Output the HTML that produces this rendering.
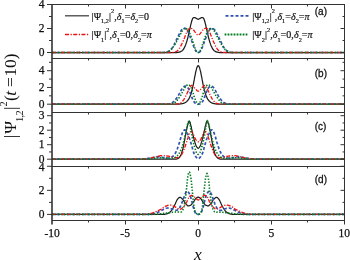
<!DOCTYPE html>
<html><head><meta charset="utf-8"><style>
html,body{margin:0;padding:0;background:#fff;}
svg{display:block;will-change:transform;}
.k{fill:none;stroke:#1e1e1e;stroke-width:1.25;}
.bl{fill:none;stroke:#3352b0;stroke-width:1.7;stroke-dasharray:3 2;}
.rd{fill:none;stroke:#f01010;stroke-width:1.3;stroke-dasharray:4 1.6 1.2 1.4;}
.gr{fill:none;stroke:#007a1e;stroke-width:1.6;stroke-dasharray:1.4 1.6;}
text{font-family:"Liberation Serif",serif;fill:#111;}
.tl{font-size:11.5px;stroke:#111;stroke-width:0.25px;}
.lgt{stroke:#111;stroke-width:0.2px;}
.pll{stroke:#111;stroke-width:0.28px;}
</style></head><body>
<svg width="350" height="260" viewBox="0 0 350 260">
<rect width="350" height="260" fill="#fff"/>
<defs><clipPath id="pc"><rect x="52.0" y="4.5" width="292.5" height="216"/></clipPath></defs>
<g clip-path="url(#pc)">
<path class="k" d="M52.0,52.5 L131.0,52.5 L131.3,52.5 L131.7,52.5 L132.1,52.5 L132.4,52.5 L132.8,52.5 L133.2,52.5 L133.5,52.5 L133.9,52.5 L134.3,52.5 L134.6,52.5 L135.0,52.5 L135.4,52.5 L135.7,52.5 L136.1,52.5 L136.5,52.5 L136.8,52.5 L137.2,52.5 L137.5,52.5 L137.9,52.5 L138.3,52.5 L138.6,52.5 L139.0,52.5 L139.4,52.5 L139.7,52.5 L140.1,52.5 L140.5,52.5 L140.8,52.5 L141.2,52.5 L141.6,52.5 L141.9,52.5 L142.3,52.5 L142.7,52.5 L143.0,52.5 L143.4,52.5 L143.8,52.5 L144.1,52.5 L144.5,52.5 L144.9,52.5 L145.2,52.5 L145.6,52.5 L146.0,52.5 L146.3,52.5 L146.7,52.5 L147.0,52.5 L147.4,52.5 L147.8,52.5 L148.1,52.5 L148.5,52.5 L148.9,52.5 L149.2,52.5 L149.6,52.5 L150.0,52.5 L150.3,52.5 L150.7,52.5 L151.1,52.5 L151.4,52.5 L151.8,52.5 L152.2,52.5 L152.5,52.5 L152.9,52.5 L153.3,52.5 L153.6,52.5 L154.0,52.5 L154.4,52.5 L154.7,52.5 L155.1,52.5 L155.5,52.5 L155.8,52.5 L156.2,52.5 L156.5,52.5 L156.9,52.5 L157.3,52.5 L157.6,52.5 L158.0,52.5 L158.4,52.5 L158.7,52.5 L159.1,52.5 L159.5,52.5 L159.8,52.5 L160.2,52.5 L160.6,52.5 L160.9,52.5 L161.3,52.5 L161.7,52.5 L162.0,52.5 L162.4,52.5 L162.8,52.5 L163.1,52.5 L163.5,52.5 L163.9,52.5 L164.2,52.5 L164.6,52.5 L165.0,52.5 L165.3,52.5 L165.7,52.5 L166.0,52.5 L166.4,52.5 L166.8,52.5 L167.1,52.5 L167.5,52.5 L167.9,52.5 L168.2,52.5 L168.6,52.5 L169.0,52.5 L169.3,52.5 L169.7,52.5 L170.1,52.5 L170.4,52.5 L170.8,52.5 L171.2,52.5 L171.5,52.5 L171.9,52.5 L172.3,52.5 L172.6,52.5 L173.0,52.5 L173.4,52.5 L173.7,52.5 L174.1,52.5 L174.5,52.5 L174.8,52.5 L175.2,52.5 L175.5,52.5 L175.9,52.5 L176.3,52.5 L176.6,52.5 L177.0,52.5 L177.4,52.4 L177.7,52.4 L178.1,52.3 L178.5,52.3 L178.8,52.2 L179.2,52.1 L179.6,52.1 L179.9,51.9 L180.3,51.8 L180.7,51.6 L181.0,51.4 L181.4,51.2 L181.8,51.0 L182.1,50.7 L182.5,50.4 L182.9,50.0 L183.2,49.5 L183.6,49.0 L184.0,48.5 L184.3,47.8 L184.7,47.1 L185.0,46.3 L185.4,45.4 L185.8,44.4 L186.1,43.4 L186.5,42.3 L186.9,41.1 L187.2,39.9 L187.6,38.5 L188.0,37.1 L188.3,35.7 L188.7,34.1 L189.1,32.5 L189.4,30.9 L189.8,29.2 L190.2,27.5 L190.5,25.8 L190.9,24.2 L191.3,22.8 L191.6,21.5 L192.0,20.3 L192.4,19.2 L192.7,18.4 L193.1,18.1 L193.5,17.8 L193.8,17.6 L194.2,17.5 L194.5,17.5 L194.9,17.5 L195.3,17.7 L195.6,17.9 L196.0,18.2 L196.4,18.4 L196.7,18.6 L197.1,18.8 L197.5,19.0 L197.8,19.2 L198.2,19.3 L198.6,19.2 L198.9,19.0 L199.3,18.8 L199.7,18.6 L200.0,18.4 L200.4,18.2 L200.8,17.9 L201.1,17.7 L201.5,17.5 L201.9,17.5 L202.2,17.5 L202.6,17.6 L202.9,17.8 L203.3,18.1 L203.7,18.4 L204.0,19.2 L204.4,20.3 L204.8,21.5 L205.1,22.8 L205.5,24.2 L205.9,25.8 L206.2,27.5 L206.6,29.2 L207.0,30.9 L207.3,32.5 L207.7,34.1 L208.1,35.7 L208.4,37.1 L208.8,38.5 L209.2,39.9 L209.5,41.1 L209.9,42.3 L210.3,43.4 L210.6,44.4 L211.0,45.4 L211.4,46.3 L211.7,47.1 L212.1,47.8 L212.4,48.5 L212.8,49.0 L213.2,49.5 L213.5,50.0 L213.9,50.4 L214.3,50.7 L214.6,51.0 L215.0,51.2 L215.4,51.4 L215.7,51.6 L216.1,51.8 L216.5,51.9 L216.8,52.1 L217.2,52.1 L217.6,52.2 L217.9,52.3 L218.3,52.3 L218.7,52.4 L219.0,52.4 L219.4,52.5 L219.8,52.5 L220.1,52.5 L220.5,52.5 L220.9,52.5 L221.2,52.5 L221.6,52.5 L221.9,52.5 L222.3,52.5 L222.7,52.5 L223.0,52.5 L223.4,52.5 L223.8,52.5 L224.1,52.5 L224.5,52.5 L224.9,52.5 L225.2,52.5 L225.6,52.5 L226.0,52.5 L226.3,52.5 L226.7,52.5 L227.1,52.5 L227.4,52.5 L227.8,52.5 L228.2,52.5 L228.5,52.5 L228.9,52.5 L229.3,52.5 L229.6,52.5 L230.0,52.5 L230.4,52.5 L230.7,52.5 L231.1,52.5 L231.4,52.5 L231.8,52.5 L232.2,52.5 L232.5,52.5 L232.9,52.5 L233.3,52.5 L233.6,52.5 L234.0,52.5 L234.4,52.5 L234.7,52.5 L235.1,52.5 L235.5,52.5 L235.8,52.5 L236.2,52.5 L236.6,52.5 L236.9,52.5 L237.3,52.5 L237.7,52.5 L238.0,52.5 L238.4,52.5 L238.8,52.5 L239.1,52.5 L239.5,52.5 L239.9,52.5 L240.2,52.5 L240.6,52.5 L240.9,52.5 L241.3,52.5 L241.7,52.5 L242.0,52.5 L242.4,52.5 L242.8,52.5 L243.1,52.5 L243.5,52.5 L243.9,52.5 L244.2,52.5 L244.6,52.5 L245.0,52.5 L245.3,52.5 L245.7,52.5 L246.1,52.5 L246.4,52.5 L246.8,52.5 L247.2,52.5 L247.5,52.5 L247.9,52.5 L248.3,52.5 L248.6,52.5 L249.0,52.5 L249.4,52.5 L249.7,52.5 L250.1,52.5 L250.4,52.5 L250.8,52.5 L251.2,52.5 L251.5,52.5 L251.9,52.5 L252.3,52.5 L252.6,52.5 L253.0,52.5 L253.4,52.5 L253.7,52.5 L254.1,52.5 L254.5,52.5 L254.8,52.5 L255.2,52.5 L255.6,52.5 L255.9,52.5 L256.3,52.5 L256.7,52.5 L257.0,52.5 L257.4,52.5 L257.8,52.5 L258.1,52.5 L258.5,52.5 L258.9,52.5 L259.2,52.5 L259.6,52.5 L259.9,52.5 L260.3,52.5 L260.7,52.5 L261.0,52.5 L261.4,52.5 L261.8,52.5 L262.1,52.5 L262.5,52.5 L262.9,52.5 L263.2,52.5 L263.6,52.5 L264.0,52.5 L264.3,52.5 L264.7,52.5 L265.1,52.5 L265.4,52.5 L344.4,52.5"/>
<path class="bl" d="M52.0,52.5 L131.0,52.5 L131.3,52.5 L131.7,52.5 L132.1,52.5 L132.4,52.5 L132.8,52.5 L133.2,52.5 L133.5,52.5 L133.9,52.5 L134.3,52.5 L134.6,52.5 L135.0,52.5 L135.4,52.5 L135.7,52.5 L136.1,52.5 L136.5,52.5 L136.8,52.5 L137.2,52.5 L137.5,52.5 L137.9,52.5 L138.3,52.5 L138.6,52.5 L139.0,52.5 L139.4,52.5 L139.7,52.5 L140.1,52.5 L140.5,52.5 L140.8,52.5 L141.2,52.5 L141.6,52.5 L141.9,52.5 L142.3,52.5 L142.7,52.5 L143.0,52.5 L143.4,52.5 L143.8,52.5 L144.1,52.5 L144.5,52.5 L144.9,52.5 L145.2,52.5 L145.6,52.5 L146.0,52.5 L146.3,52.5 L146.7,52.5 L147.0,52.5 L147.4,52.5 L147.8,52.5 L148.1,52.5 L148.5,52.5 L148.9,52.5 L149.2,52.5 L149.6,52.5 L150.0,52.5 L150.3,52.5 L150.7,52.5 L151.1,52.5 L151.4,52.5 L151.8,52.5 L152.2,52.5 L152.5,52.5 L152.9,52.5 L153.3,52.5 L153.6,52.5 L154.0,52.5 L154.4,52.5 L154.7,52.5 L155.1,52.5 L155.5,52.5 L155.8,52.5 L156.2,52.5 L156.5,52.5 L156.9,52.5 L157.3,52.5 L157.6,52.5 L158.0,52.5 L158.4,52.5 L158.7,52.5 L159.1,52.5 L159.5,52.5 L159.8,52.5 L160.2,52.5 L160.6,52.5 L160.9,52.5 L161.3,52.5 L161.7,52.5 L162.0,52.5 L162.4,52.5 L162.8,52.5 L163.1,52.5 L163.5,52.5 L163.9,52.5 L164.2,52.4 L164.6,52.4 L165.0,52.4 L165.3,52.4 L165.7,52.3 L166.0,52.3 L166.4,52.2 L166.8,52.1 L167.1,52.0 L167.5,51.8 L167.9,51.7 L168.2,51.5 L168.6,51.3 L169.0,51.1 L169.3,50.9 L169.7,50.7 L170.1,50.4 L170.4,50.0 L170.8,49.6 L171.2,49.2 L171.5,48.8 L171.9,48.3 L172.3,47.8 L172.6,47.3 L173.0,46.8 L173.4,46.2 L173.7,45.5 L174.1,44.8 L174.5,44.0 L174.8,43.2 L175.2,42.4 L175.5,41.6 L175.9,40.9 L176.3,40.2 L176.6,39.4 L177.0,38.6 L177.4,37.9 L177.7,37.1 L178.1,36.4 L178.5,35.6 L178.8,34.9 L179.2,34.3 L179.6,33.6 L179.9,32.9 L180.3,32.2 L180.7,31.5 L181.0,30.9 L181.4,30.3 L181.8,29.8 L182.1,29.5 L182.5,29.2 L182.9,28.9 L183.2,28.6 L183.6,28.4 L184.0,28.3 L184.3,28.2 L184.7,28.1 L185.0,28.2 L185.4,28.4 L185.8,28.7 L186.1,29.1 L186.5,29.5 L186.9,29.9 L187.2,30.4 L187.6,31.0 L188.0,31.7 L188.3,32.5 L188.7,33.3 L189.1,34.2 L189.4,35.1 L189.8,36.0 L190.2,36.9 L190.5,37.8 L190.9,38.8 L191.3,39.8 L191.6,40.8 L192.0,41.7 L192.4,42.7 L192.7,43.8 L193.1,44.8 L193.5,45.9 L193.8,46.8 L194.2,47.7 L194.5,48.5 L194.9,49.3 L195.3,50.0 L195.6,50.7 L196.0,51.3 L196.4,51.7 L196.7,52.0 L197.1,52.2 L197.5,52.4 L197.8,52.5 L198.2,52.5 L198.6,52.5 L198.9,52.4 L199.3,52.2 L199.7,52.0 L200.0,51.7 L200.4,51.3 L200.8,50.7 L201.1,50.0 L201.5,49.3 L201.9,48.5 L202.2,47.7 L202.6,46.8 L202.9,45.9 L203.3,44.8 L203.7,43.8 L204.0,42.7 L204.4,41.7 L204.8,40.8 L205.1,39.8 L205.5,38.8 L205.9,37.8 L206.2,36.9 L206.6,36.0 L207.0,35.1 L207.3,34.2 L207.7,33.3 L208.1,32.5 L208.4,31.7 L208.8,31.0 L209.2,30.4 L209.5,29.9 L209.9,29.5 L210.3,29.1 L210.6,28.7 L211.0,28.4 L211.4,28.2 L211.7,28.1 L212.1,28.2 L212.4,28.3 L212.8,28.4 L213.2,28.6 L213.5,28.9 L213.9,29.2 L214.3,29.5 L214.6,29.8 L215.0,30.3 L215.4,30.9 L215.7,31.5 L216.1,32.2 L216.5,32.9 L216.8,33.6 L217.2,34.3 L217.6,34.9 L217.9,35.6 L218.3,36.4 L218.7,37.1 L219.0,37.9 L219.4,38.6 L219.8,39.4 L220.1,40.2 L220.5,40.9 L220.9,41.6 L221.2,42.4 L221.6,43.2 L221.9,44.0 L222.3,44.8 L222.7,45.5 L223.0,46.2 L223.4,46.8 L223.8,47.3 L224.1,47.8 L224.5,48.3 L224.9,48.8 L225.2,49.2 L225.6,49.6 L226.0,50.0 L226.3,50.4 L226.7,50.7 L227.1,50.9 L227.4,51.1 L227.8,51.3 L228.2,51.5 L228.5,51.7 L228.9,51.8 L229.3,52.0 L229.6,52.1 L230.0,52.2 L230.4,52.3 L230.7,52.3 L231.1,52.4 L231.4,52.4 L231.8,52.4 L232.2,52.4 L232.5,52.5 L232.9,52.5 L233.3,52.5 L233.6,52.5 L234.0,52.5 L234.4,52.5 L234.7,52.5 L235.1,52.5 L235.5,52.5 L235.8,52.5 L236.2,52.5 L236.6,52.5 L236.9,52.5 L237.3,52.5 L237.7,52.5 L238.0,52.5 L238.4,52.5 L238.8,52.5 L239.1,52.5 L239.5,52.5 L239.9,52.5 L240.2,52.5 L240.6,52.5 L240.9,52.5 L241.3,52.5 L241.7,52.5 L242.0,52.5 L242.4,52.5 L242.8,52.5 L243.1,52.5 L243.5,52.5 L243.9,52.5 L244.2,52.5 L244.6,52.5 L245.0,52.5 L245.3,52.5 L245.7,52.5 L246.1,52.5 L246.4,52.5 L246.8,52.5 L247.2,52.5 L247.5,52.5 L247.9,52.5 L248.3,52.5 L248.6,52.5 L249.0,52.5 L249.4,52.5 L249.7,52.5 L250.1,52.5 L250.4,52.5 L250.8,52.5 L251.2,52.5 L251.5,52.5 L251.9,52.5 L252.3,52.5 L252.6,52.5 L253.0,52.5 L253.4,52.5 L253.7,52.5 L254.1,52.5 L254.5,52.5 L254.8,52.5 L255.2,52.5 L255.6,52.5 L255.9,52.5 L256.3,52.5 L256.7,52.5 L257.0,52.5 L257.4,52.5 L257.8,52.5 L258.1,52.5 L258.5,52.5 L258.9,52.5 L259.2,52.5 L259.6,52.5 L259.9,52.5 L260.3,52.5 L260.7,52.5 L261.0,52.5 L261.4,52.5 L261.8,52.5 L262.1,52.5 L262.5,52.5 L262.9,52.5 L263.2,52.5 L263.6,52.5 L264.0,52.5 L264.3,52.5 L264.7,52.5 L265.1,52.5 L265.4,52.5 L344.4,52.5"/>
<path class="rd" d="M52.0,52.5 L131.0,52.5 L131.3,52.5 L131.7,52.5 L132.1,52.5 L132.4,52.5 L132.8,52.5 L133.2,52.5 L133.5,52.5 L133.9,52.5 L134.3,52.5 L134.6,52.5 L135.0,52.5 L135.4,52.5 L135.7,52.5 L136.1,52.5 L136.5,52.5 L136.8,52.5 L137.2,52.5 L137.5,52.5 L137.9,52.5 L138.3,52.5 L138.6,52.5 L139.0,52.5 L139.4,52.5 L139.7,52.5 L140.1,52.5 L140.5,52.5 L140.8,52.5 L141.2,52.5 L141.6,52.5 L141.9,52.5 L142.3,52.5 L142.7,52.5 L143.0,52.5 L143.4,52.5 L143.8,52.5 L144.1,52.5 L144.5,52.5 L144.9,52.5 L145.2,52.5 L145.6,52.5 L146.0,52.5 L146.3,52.5 L146.7,52.5 L147.0,52.5 L147.4,52.5 L147.8,52.5 L148.1,52.5 L148.5,52.5 L148.9,52.5 L149.2,52.5 L149.6,52.5 L150.0,52.5 L150.3,52.5 L150.7,52.5 L151.1,52.5 L151.4,52.5 L151.8,52.5 L152.2,52.5 L152.5,52.5 L152.9,52.5 L153.3,52.5 L153.6,52.5 L154.0,52.5 L154.4,52.5 L154.7,52.5 L155.1,52.5 L155.5,52.5 L155.8,52.5 L156.2,52.5 L156.5,52.5 L156.9,52.5 L157.3,52.5 L157.6,52.5 L158.0,52.5 L158.4,52.5 L158.7,52.5 L159.1,52.5 L159.5,52.5 L159.8,52.5 L160.2,52.5 L160.6,52.5 L160.9,52.5 L161.3,52.5 L161.7,52.5 L162.0,52.5 L162.4,52.5 L162.8,52.5 L163.1,52.5 L163.5,52.5 L163.9,52.5 L164.2,52.5 L164.6,52.5 L165.0,52.5 L165.3,52.5 L165.7,52.5 L166.0,52.5 L166.4,52.5 L166.8,52.5 L167.1,52.5 L167.5,52.5 L167.9,52.5 L168.2,52.5 L168.6,52.5 L169.0,52.5 L169.3,52.5 L169.7,52.5 L170.1,52.5 L170.4,52.5 L170.8,52.5 L171.2,52.5 L171.5,52.4 L171.9,52.4 L172.3,52.4 L172.6,52.4 L173.0,52.3 L173.4,52.3 L173.7,52.2 L174.1,52.2 L174.5,52.1 L174.8,52.0 L175.2,51.9 L175.5,51.8 L175.9,51.7 L176.3,51.5 L176.6,51.3 L177.0,51.1 L177.4,50.8 L177.7,50.5 L178.1,50.2 L178.5,49.8 L178.8,49.3 L179.2,48.8 L179.6,48.2 L179.9,47.6 L180.3,47.0 L180.7,46.3 L181.0,45.6 L181.4,44.8 L181.8,44.0 L182.1,43.3 L182.5,42.5 L182.9,41.7 L183.2,40.9 L183.6,40.1 L184.0,39.2 L184.3,38.3 L184.7,37.4 L185.0,36.4 L185.4,35.4 L185.8,34.5 L186.1,33.6 L186.5,32.7 L186.9,31.8 L187.2,31.0 L187.6,30.4 L188.0,29.9 L188.3,29.4 L188.7,29.0 L189.1,28.7 L189.4,28.5 L189.8,28.4 L190.2,28.3 L190.5,28.3 L190.9,28.3 L191.3,28.3 L191.6,28.5 L192.0,28.7 L192.4,28.9 L192.7,29.3 L193.1,29.6 L193.5,30.0 L193.8,30.3 L194.2,30.7 L194.5,31.2 L194.9,31.8 L195.3,32.3 L195.6,32.9 L196.0,33.4 L196.4,33.8 L196.7,34.2 L197.1,34.5 L197.5,34.8 L197.8,35.0 L198.2,35.1 L198.6,35.0 L198.9,34.8 L199.3,34.5 L199.7,34.2 L200.0,33.8 L200.4,33.4 L200.8,32.9 L201.1,32.3 L201.5,31.8 L201.9,31.2 L202.2,30.7 L202.6,30.3 L202.9,30.0 L203.3,29.6 L203.7,29.3 L204.0,28.9 L204.4,28.7 L204.8,28.5 L205.1,28.3 L205.5,28.3 L205.9,28.3 L206.2,28.3 L206.6,28.4 L207.0,28.5 L207.3,28.7 L207.7,29.0 L208.1,29.4 L208.4,29.9 L208.8,30.4 L209.2,31.0 L209.5,31.8 L209.9,32.7 L210.3,33.6 L210.6,34.5 L211.0,35.4 L211.4,36.4 L211.7,37.4 L212.1,38.3 L212.4,39.2 L212.8,40.1 L213.2,40.9 L213.5,41.7 L213.9,42.5 L214.3,43.3 L214.6,44.0 L215.0,44.8 L215.4,45.6 L215.7,46.3 L216.1,47.0 L216.5,47.6 L216.8,48.2 L217.2,48.8 L217.6,49.3 L217.9,49.8 L218.3,50.2 L218.7,50.5 L219.0,50.8 L219.4,51.1 L219.8,51.3 L220.1,51.5 L220.5,51.7 L220.9,51.8 L221.2,51.9 L221.6,52.0 L221.9,52.1 L222.3,52.2 L222.7,52.2 L223.0,52.3 L223.4,52.3 L223.8,52.4 L224.1,52.4 L224.5,52.4 L224.9,52.4 L225.2,52.5 L225.6,52.5 L226.0,52.5 L226.3,52.5 L226.7,52.5 L227.1,52.5 L227.4,52.5 L227.8,52.5 L228.2,52.5 L228.5,52.5 L228.9,52.5 L229.3,52.5 L229.6,52.5 L230.0,52.5 L230.4,52.5 L230.7,52.5 L231.1,52.5 L231.4,52.5 L231.8,52.5 L232.2,52.5 L232.5,52.5 L232.9,52.5 L233.3,52.5 L233.6,52.5 L234.0,52.5 L234.4,52.5 L234.7,52.5 L235.1,52.5 L235.5,52.5 L235.8,52.5 L236.2,52.5 L236.6,52.5 L236.9,52.5 L237.3,52.5 L237.7,52.5 L238.0,52.5 L238.4,52.5 L238.8,52.5 L239.1,52.5 L239.5,52.5 L239.9,52.5 L240.2,52.5 L240.6,52.5 L240.9,52.5 L241.3,52.5 L241.7,52.5 L242.0,52.5 L242.4,52.5 L242.8,52.5 L243.1,52.5 L243.5,52.5 L243.9,52.5 L244.2,52.5 L244.6,52.5 L245.0,52.5 L245.3,52.5 L245.7,52.5 L246.1,52.5 L246.4,52.5 L246.8,52.5 L247.2,52.5 L247.5,52.5 L247.9,52.5 L248.3,52.5 L248.6,52.5 L249.0,52.5 L249.4,52.5 L249.7,52.5 L250.1,52.5 L250.4,52.5 L250.8,52.5 L251.2,52.5 L251.5,52.5 L251.9,52.5 L252.3,52.5 L252.6,52.5 L253.0,52.5 L253.4,52.5 L253.7,52.5 L254.1,52.5 L254.5,52.5 L254.8,52.5 L255.2,52.5 L255.6,52.5 L255.9,52.5 L256.3,52.5 L256.7,52.5 L257.0,52.5 L257.4,52.5 L257.8,52.5 L258.1,52.5 L258.5,52.5 L258.9,52.5 L259.2,52.5 L259.6,52.5 L259.9,52.5 L260.3,52.5 L260.7,52.5 L261.0,52.5 L261.4,52.5 L261.8,52.5 L262.1,52.5 L262.5,52.5 L262.9,52.5 L263.2,52.5 L263.6,52.5 L264.0,52.5 L264.3,52.5 L264.7,52.5 L265.1,52.5 L265.4,52.5 L344.4,52.5"/>
<path class="gr" d="M52.0,52.5 L131.0,52.5 L131.3,52.5 L131.7,52.5 L132.1,52.5 L132.4,52.5 L132.8,52.5 L133.2,52.5 L133.5,52.5 L133.9,52.5 L134.3,52.5 L134.6,52.5 L135.0,52.5 L135.4,52.5 L135.7,52.5 L136.1,52.5 L136.5,52.5 L136.8,52.5 L137.2,52.5 L137.5,52.5 L137.9,52.5 L138.3,52.5 L138.6,52.5 L139.0,52.5 L139.4,52.5 L139.7,52.5 L140.1,52.5 L140.5,52.5 L140.8,52.5 L141.2,52.5 L141.6,52.5 L141.9,52.5 L142.3,52.5 L142.7,52.5 L143.0,52.5 L143.4,52.5 L143.8,52.5 L144.1,52.5 L144.5,52.5 L144.9,52.5 L145.2,52.5 L145.6,52.5 L146.0,52.5 L146.3,52.5 L146.7,52.5 L147.0,52.5 L147.4,52.5 L147.8,52.5 L148.1,52.5 L148.5,52.5 L148.9,52.5 L149.2,52.5 L149.6,52.5 L150.0,52.5 L150.3,52.5 L150.7,52.5 L151.1,52.5 L151.4,52.5 L151.8,52.5 L152.2,52.5 L152.5,52.5 L152.9,52.5 L153.3,52.5 L153.6,52.5 L154.0,52.5 L154.4,52.5 L154.7,52.5 L155.1,52.5 L155.5,52.5 L155.8,52.5 L156.2,52.5 L156.5,52.5 L156.9,52.5 L157.3,52.5 L157.6,52.5 L158.0,52.5 L158.4,52.5 L158.7,52.5 L159.1,52.5 L159.5,52.5 L159.8,52.5 L160.2,52.5 L160.6,52.5 L160.9,52.5 L161.3,52.5 L161.7,52.5 L162.0,52.5 L162.4,52.5 L162.8,52.5 L163.1,52.5 L163.5,52.5 L163.9,52.5 L164.2,52.5 L164.6,52.4 L165.0,52.4 L165.3,52.4 L165.7,52.4 L166.0,52.4 L166.4,52.3 L166.8,52.3 L167.1,52.2 L167.5,52.1 L167.9,51.9 L168.2,51.7 L168.6,51.6 L169.0,51.4 L169.3,51.2 L169.7,50.9 L170.1,50.7 L170.4,50.4 L170.8,50.0 L171.2,49.6 L171.5,49.2 L171.9,48.7 L172.3,48.2 L172.6,47.7 L173.0,47.2 L173.4,46.7 L173.7,46.2 L174.1,45.7 L174.5,45.2 L174.8,44.6 L175.2,44.0 L175.5,43.4 L175.9,42.8 L176.3,42.2 L176.6,41.6 L177.0,40.9 L177.4,40.2 L177.7,39.5 L178.1,38.7 L178.5,38.0 L178.8,37.3 L179.2,36.5 L179.6,35.8 L179.9,35.1 L180.3,34.4 L180.7,33.7 L181.0,32.9 L181.4,32.2 L181.8,31.5 L182.1,30.9 L182.5,30.4 L182.9,29.9 L183.2,29.6 L183.6,29.2 L184.0,28.9 L184.3,28.6 L184.7,28.3 L185.0,28.2 L185.4,28.1 L185.8,28.2 L186.1,28.4 L186.5,28.7 L186.9,29.1 L187.2,29.5 L187.6,29.9 L188.0,30.3 L188.3,30.8 L188.7,31.5 L189.1,32.2 L189.4,32.9 L189.8,33.7 L190.2,34.5 L190.5,35.3 L190.9,36.2 L191.3,37.2 L191.6,38.2 L192.0,39.2 L192.4,40.3 L192.7,41.3 L193.1,42.4 L193.5,43.5 L193.8,44.6 L194.2,45.8 L194.5,46.8 L194.9,47.8 L195.3,48.7 L195.6,49.6 L196.0,50.4 L196.4,51.2 L196.7,51.7 L197.1,52.1 L197.5,52.3 L197.8,52.4 L198.2,52.5 L198.6,52.4 L198.9,52.3 L199.3,52.1 L199.7,51.7 L200.0,51.2 L200.4,50.4 L200.8,49.6 L201.1,48.7 L201.5,47.8 L201.9,46.8 L202.2,45.8 L202.6,44.6 L202.9,43.5 L203.3,42.4 L203.7,41.3 L204.0,40.3 L204.4,39.2 L204.8,38.2 L205.1,37.2 L205.5,36.2 L205.9,35.3 L206.2,34.5 L206.6,33.7 L207.0,32.9 L207.3,32.2 L207.7,31.5 L208.1,30.8 L208.4,30.3 L208.8,29.9 L209.2,29.5 L209.5,29.1 L209.9,28.7 L210.3,28.4 L210.6,28.2 L211.0,28.1 L211.4,28.2 L211.7,28.3 L212.1,28.6 L212.4,28.9 L212.8,29.2 L213.2,29.6 L213.5,29.9 L213.9,30.4 L214.3,30.9 L214.6,31.5 L215.0,32.2 L215.4,32.9 L215.7,33.7 L216.1,34.4 L216.5,35.1 L216.8,35.8 L217.2,36.5 L217.6,37.3 L217.9,38.0 L218.3,38.7 L218.7,39.5 L219.0,40.2 L219.4,40.9 L219.8,41.6 L220.1,42.2 L220.5,42.8 L220.9,43.4 L221.2,44.0 L221.6,44.6 L221.9,45.2 L222.3,45.7 L222.7,46.2 L223.0,46.7 L223.4,47.2 L223.8,47.7 L224.1,48.2 L224.5,48.7 L224.9,49.2 L225.2,49.6 L225.6,50.0 L226.0,50.4 L226.3,50.7 L226.7,50.9 L227.1,51.2 L227.4,51.4 L227.8,51.6 L228.2,51.7 L228.5,51.9 L228.9,52.1 L229.3,52.2 L229.6,52.3 L230.0,52.3 L230.4,52.4 L230.7,52.4 L231.1,52.4 L231.4,52.4 L231.8,52.4 L232.2,52.5 L232.5,52.5 L232.9,52.5 L233.3,52.5 L233.6,52.5 L234.0,52.5 L234.4,52.5 L234.7,52.5 L235.1,52.5 L235.5,52.5 L235.8,52.5 L236.2,52.5 L236.6,52.5 L236.9,52.5 L237.3,52.5 L237.7,52.5 L238.0,52.5 L238.4,52.5 L238.8,52.5 L239.1,52.5 L239.5,52.5 L239.9,52.5 L240.2,52.5 L240.6,52.5 L240.9,52.5 L241.3,52.5 L241.7,52.5 L242.0,52.5 L242.4,52.5 L242.8,52.5 L243.1,52.5 L243.5,52.5 L243.9,52.5 L244.2,52.5 L244.6,52.5 L245.0,52.5 L245.3,52.5 L245.7,52.5 L246.1,52.5 L246.4,52.5 L246.8,52.5 L247.2,52.5 L247.5,52.5 L247.9,52.5 L248.3,52.5 L248.6,52.5 L249.0,52.5 L249.4,52.5 L249.7,52.5 L250.1,52.5 L250.4,52.5 L250.8,52.5 L251.2,52.5 L251.5,52.5 L251.9,52.5 L252.3,52.5 L252.6,52.5 L253.0,52.5 L253.4,52.5 L253.7,52.5 L254.1,52.5 L254.5,52.5 L254.8,52.5 L255.2,52.5 L255.6,52.5 L255.9,52.5 L256.3,52.5 L256.7,52.5 L257.0,52.5 L257.4,52.5 L257.8,52.5 L258.1,52.5 L258.5,52.5 L258.9,52.5 L259.2,52.5 L259.6,52.5 L259.9,52.5 L260.3,52.5 L260.7,52.5 L261.0,52.5 L261.4,52.5 L261.8,52.5 L262.1,52.5 L262.5,52.5 L262.9,52.5 L263.2,52.5 L263.6,52.5 L264.0,52.5 L264.3,52.5 L264.7,52.5 L265.1,52.5 L265.4,52.5 L344.4,52.5"/>
<path class="k" d="M52.0,104.2 L131.0,104.2 L131.3,104.2 L131.7,104.2 L132.1,104.2 L132.4,104.2 L132.8,104.2 L133.2,104.2 L133.5,104.2 L133.9,104.2 L134.3,104.2 L134.6,104.2 L135.0,104.2 L135.4,104.2 L135.7,104.2 L136.1,104.2 L136.5,104.2 L136.8,104.2 L137.2,104.2 L137.5,104.2 L137.9,104.2 L138.3,104.2 L138.6,104.2 L139.0,104.2 L139.4,104.2 L139.7,104.2 L140.1,104.2 L140.5,104.2 L140.8,104.2 L141.2,104.2 L141.6,104.2 L141.9,104.2 L142.3,104.2 L142.7,104.2 L143.0,104.2 L143.4,104.2 L143.8,104.2 L144.1,104.2 L144.5,104.2 L144.9,104.2 L145.2,104.2 L145.6,104.2 L146.0,104.2 L146.3,104.2 L146.7,104.2 L147.0,104.2 L147.4,104.2 L147.8,104.2 L148.1,104.2 L148.5,104.2 L148.9,104.2 L149.2,104.2 L149.6,104.2 L150.0,104.2 L150.3,104.2 L150.7,104.2 L151.1,104.2 L151.4,104.2 L151.8,104.2 L152.2,104.2 L152.5,104.2 L152.9,104.2 L153.3,104.2 L153.6,104.2 L154.0,104.2 L154.4,104.2 L154.7,104.2 L155.1,104.2 L155.5,104.2 L155.8,104.2 L156.2,104.2 L156.5,104.2 L156.9,104.2 L157.3,104.2 L157.6,104.2 L158.0,104.2 L158.4,104.2 L158.7,104.2 L159.1,104.2 L159.5,104.2 L159.8,104.2 L160.2,104.2 L160.6,104.2 L160.9,104.2 L161.3,104.2 L161.7,104.2 L162.0,104.2 L162.4,104.2 L162.8,104.2 L163.1,104.2 L163.5,104.2 L163.9,104.2 L164.2,104.2 L164.6,104.2 L165.0,104.2 L165.3,104.2 L165.7,104.2 L166.0,104.2 L166.4,104.2 L166.8,104.2 L167.1,104.2 L167.5,104.2 L167.9,104.2 L168.2,104.2 L168.6,104.2 L169.0,104.2 L169.3,104.2 L169.7,104.2 L170.1,104.2 L170.4,104.2 L170.8,104.2 L171.2,104.2 L171.5,104.2 L171.9,104.2 L172.3,104.2 L172.6,104.2 L173.0,104.2 L173.4,104.2 L173.7,104.2 L174.1,104.2 L174.5,104.2 L174.8,104.2 L175.2,104.2 L175.5,104.1 L175.9,104.1 L176.3,104.1 L176.6,104.1 L177.0,104.1 L177.4,104.1 L177.7,104.1 L178.1,104.1 L178.5,104.0 L178.8,104.0 L179.2,104.0 L179.6,104.0 L179.9,103.9 L180.3,103.9 L180.7,103.9 L181.0,103.8 L181.4,103.8 L181.8,103.7 L182.1,103.7 L182.5,103.6 L182.9,103.5 L183.2,103.4 L183.6,103.3 L184.0,103.2 L184.3,103.0 L184.7,102.9 L185.0,102.7 L185.4,102.5 L185.8,102.3 L186.1,102.0 L186.5,101.7 L186.9,101.4 L187.2,101.0 L187.6,100.6 L188.0,100.2 L188.3,99.7 L188.7,99.1 L189.1,98.4 L189.4,97.7 L189.8,96.9 L190.2,96.0 L190.5,95.0 L190.9,94.0 L191.3,92.8 L191.6,91.5 L192.0,90.1 L192.4,88.6 L192.7,87.1 L193.1,85.4 L193.5,83.6 L193.8,81.8 L194.2,79.9 L194.5,78.0 L194.9,76.1 L195.3,74.3 L195.6,72.5 L196.0,70.9 L196.4,69.4 L196.7,68.1 L197.1,67.1 L197.5,66.3 L197.8,65.8 L198.2,65.7 L198.6,65.8 L198.9,66.3 L199.3,67.1 L199.7,68.1 L200.0,69.4 L200.4,70.9 L200.8,72.5 L201.1,74.3 L201.5,76.1 L201.9,78.0 L202.2,79.9 L202.6,81.8 L202.9,83.6 L203.3,85.4 L203.7,87.1 L204.0,88.6 L204.4,90.1 L204.8,91.5 L205.1,92.8 L205.5,94.0 L205.9,95.0 L206.2,96.0 L206.6,96.9 L207.0,97.7 L207.3,98.4 L207.7,99.1 L208.1,99.7 L208.4,100.2 L208.8,100.6 L209.2,101.0 L209.5,101.4 L209.9,101.7 L210.3,102.0 L210.6,102.3 L211.0,102.5 L211.4,102.7 L211.7,102.9 L212.1,103.0 L212.4,103.2 L212.8,103.3 L213.2,103.4 L213.5,103.5 L213.9,103.6 L214.3,103.7 L214.6,103.7 L215.0,103.8 L215.4,103.8 L215.7,103.9 L216.1,103.9 L216.5,103.9 L216.8,104.0 L217.2,104.0 L217.6,104.0 L217.9,104.0 L218.3,104.1 L218.7,104.1 L219.0,104.1 L219.4,104.1 L219.8,104.1 L220.1,104.1 L220.5,104.1 L220.9,104.1 L221.2,104.2 L221.6,104.2 L221.9,104.2 L222.3,104.2 L222.7,104.2 L223.0,104.2 L223.4,104.2 L223.8,104.2 L224.1,104.2 L224.5,104.2 L224.9,104.2 L225.2,104.2 L225.6,104.2 L226.0,104.2 L226.3,104.2 L226.7,104.2 L227.1,104.2 L227.4,104.2 L227.8,104.2 L228.2,104.2 L228.5,104.2 L228.9,104.2 L229.3,104.2 L229.6,104.2 L230.0,104.2 L230.4,104.2 L230.7,104.2 L231.1,104.2 L231.4,104.2 L231.8,104.2 L232.2,104.2 L232.5,104.2 L232.9,104.2 L233.3,104.2 L233.6,104.2 L234.0,104.2 L234.4,104.2 L234.7,104.2 L235.1,104.2 L235.5,104.2 L235.8,104.2 L236.2,104.2 L236.6,104.2 L236.9,104.2 L237.3,104.2 L237.7,104.2 L238.0,104.2 L238.4,104.2 L238.8,104.2 L239.1,104.2 L239.5,104.2 L239.9,104.2 L240.2,104.2 L240.6,104.2 L240.9,104.2 L241.3,104.2 L241.7,104.2 L242.0,104.2 L242.4,104.2 L242.8,104.2 L243.1,104.2 L243.5,104.2 L243.9,104.2 L244.2,104.2 L244.6,104.2 L245.0,104.2 L245.3,104.2 L245.7,104.2 L246.1,104.2 L246.4,104.2 L246.8,104.2 L247.2,104.2 L247.5,104.2 L247.9,104.2 L248.3,104.2 L248.6,104.2 L249.0,104.2 L249.4,104.2 L249.7,104.2 L250.1,104.2 L250.4,104.2 L250.8,104.2 L251.2,104.2 L251.5,104.2 L251.9,104.2 L252.3,104.2 L252.6,104.2 L253.0,104.2 L253.4,104.2 L253.7,104.2 L254.1,104.2 L254.5,104.2 L254.8,104.2 L255.2,104.2 L255.6,104.2 L255.9,104.2 L256.3,104.2 L256.7,104.2 L257.0,104.2 L257.4,104.2 L257.8,104.2 L258.1,104.2 L258.5,104.2 L258.9,104.2 L259.2,104.2 L259.6,104.2 L259.9,104.2 L260.3,104.2 L260.7,104.2 L261.0,104.2 L261.4,104.2 L261.8,104.2 L262.1,104.2 L262.5,104.2 L262.9,104.2 L263.2,104.2 L263.6,104.2 L264.0,104.2 L264.3,104.2 L264.7,104.2 L265.1,104.2 L265.4,104.2 L344.4,104.2"/>
<path class="bl" d="M52.0,104.2 L131.0,104.2 L131.3,104.2 L131.7,104.2 L132.1,104.2 L132.4,104.2 L132.8,104.2 L133.2,104.2 L133.5,104.2 L133.9,104.2 L134.3,104.2 L134.6,104.2 L135.0,104.2 L135.4,104.2 L135.7,104.2 L136.1,104.2 L136.5,104.2 L136.8,104.2 L137.2,104.2 L137.5,104.2 L137.9,104.2 L138.3,104.2 L138.6,104.2 L139.0,104.2 L139.4,104.2 L139.7,104.2 L140.1,104.2 L140.5,104.2 L140.8,104.2 L141.2,104.2 L141.6,104.2 L141.9,104.2 L142.3,104.2 L142.7,104.2 L143.0,104.2 L143.4,104.2 L143.8,104.2 L144.1,104.2 L144.5,104.2 L144.9,104.2 L145.2,104.2 L145.6,104.2 L146.0,104.2 L146.3,104.2 L146.7,104.2 L147.0,104.2 L147.4,104.2 L147.8,104.2 L148.1,104.2 L148.5,104.2 L148.9,104.2 L149.2,104.2 L149.6,104.2 L150.0,104.2 L150.3,104.2 L150.7,104.2 L151.1,104.2 L151.4,104.2 L151.8,104.2 L152.2,104.2 L152.5,104.2 L152.9,104.2 L153.3,104.2 L153.6,104.2 L154.0,104.2 L154.4,104.2 L154.7,104.2 L155.1,104.2 L155.5,104.2 L155.8,104.2 L156.2,104.2 L156.5,104.2 L156.9,104.2 L157.3,104.2 L157.6,104.2 L158.0,104.2 L158.4,104.2 L158.7,104.2 L159.1,104.2 L159.5,104.2 L159.8,104.2 L160.2,104.2 L160.6,104.2 L160.9,104.2 L161.3,104.2 L161.7,104.2 L162.0,104.2 L162.4,104.2 L162.8,104.2 L163.1,104.2 L163.5,104.2 L163.9,104.2 L164.2,104.2 L164.6,104.2 L165.0,104.2 L165.3,104.2 L165.7,104.2 L166.0,104.2 L166.4,104.2 L166.8,104.2 L167.1,104.2 L167.5,104.2 L167.9,104.1 L168.2,104.1 L168.6,104.0 L169.0,103.9 L169.3,103.8 L169.7,103.7 L170.1,103.6 L170.4,103.5 L170.8,103.4 L171.2,103.3 L171.5,103.1 L171.9,102.9 L172.3,102.6 L172.6,102.4 L173.0,102.1 L173.4,101.9 L173.7,101.6 L174.1,101.2 L174.5,100.8 L174.8,100.4 L175.2,100.0 L175.5,99.6 L175.9,99.1 L176.3,98.7 L176.6,98.2 L177.0,97.6 L177.4,97.1 L177.7,96.5 L178.1,95.9 L178.5,95.2 L178.8,94.5 L179.2,93.9 L179.6,93.2 L179.9,92.5 L180.3,91.8 L180.7,91.1 L181.0,90.4 L181.4,89.8 L181.8,89.2 L182.1,88.6 L182.5,88.0 L182.9,87.6 L183.2,87.2 L183.6,86.9 L184.0,86.6 L184.3,86.4 L184.7,86.3 L185.0,86.2 L185.4,86.2 L185.8,86.3 L186.1,86.4 L186.5,86.6 L186.9,86.7 L187.2,87.0 L187.6,87.4 L188.0,87.9 L188.3,88.5 L188.7,89.1 L189.1,89.8 L189.4,90.7 L189.8,91.6 L190.2,92.6 L190.5,93.5 L190.9,94.5 L191.3,95.5 L191.6,96.6 L192.0,97.7 L192.4,98.6 L192.7,99.4 L193.1,100.2 L193.5,100.8 L193.8,101.5 L194.2,102.0 L194.5,102.5 L194.9,102.9 L195.3,103.2 L195.6,103.4 L196.0,103.7 L196.4,103.8 L196.7,103.9 L197.1,104.0 L197.5,104.1 L197.8,104.2 L198.2,104.2 L198.6,104.2 L198.9,104.1 L199.3,104.0 L199.7,103.9 L200.0,103.8 L200.4,103.7 L200.8,103.4 L201.1,103.2 L201.5,102.9 L201.9,102.5 L202.2,102.0 L202.6,101.5 L202.9,100.8 L203.3,100.2 L203.7,99.4 L204.0,98.6 L204.4,97.7 L204.8,96.6 L205.1,95.5 L205.5,94.5 L205.9,93.5 L206.2,92.6 L206.6,91.6 L207.0,90.7 L207.3,89.8 L207.7,89.1 L208.1,88.5 L208.4,87.9 L208.8,87.4 L209.2,87.0 L209.5,86.7 L209.9,86.6 L210.3,86.4 L210.6,86.3 L211.0,86.2 L211.4,86.2 L211.7,86.3 L212.1,86.4 L212.4,86.6 L212.8,86.9 L213.2,87.2 L213.5,87.6 L213.9,88.0 L214.3,88.6 L214.6,89.2 L215.0,89.8 L215.4,90.4 L215.7,91.1 L216.1,91.8 L216.5,92.5 L216.8,93.2 L217.2,93.9 L217.6,94.5 L217.9,95.2 L218.3,95.9 L218.7,96.5 L219.0,97.1 L219.4,97.6 L219.8,98.2 L220.1,98.7 L220.5,99.1 L220.9,99.6 L221.2,100.0 L221.6,100.4 L221.9,100.8 L222.3,101.2 L222.7,101.6 L223.0,101.9 L223.4,102.1 L223.8,102.4 L224.1,102.6 L224.5,102.9 L224.9,103.1 L225.2,103.3 L225.6,103.4 L226.0,103.5 L226.3,103.6 L226.7,103.7 L227.1,103.8 L227.4,103.9 L227.8,104.0 L228.2,104.1 L228.5,104.1 L228.9,104.2 L229.3,104.2 L229.6,104.2 L230.0,104.2 L230.4,104.2 L230.7,104.2 L231.1,104.2 L231.4,104.2 L231.8,104.2 L232.2,104.2 L232.5,104.2 L232.9,104.2 L233.3,104.2 L233.6,104.2 L234.0,104.2 L234.4,104.2 L234.7,104.2 L235.1,104.2 L235.5,104.2 L235.8,104.2 L236.2,104.2 L236.6,104.2 L236.9,104.2 L237.3,104.2 L237.7,104.2 L238.0,104.2 L238.4,104.2 L238.8,104.2 L239.1,104.2 L239.5,104.2 L239.9,104.2 L240.2,104.2 L240.6,104.2 L240.9,104.2 L241.3,104.2 L241.7,104.2 L242.0,104.2 L242.4,104.2 L242.8,104.2 L243.1,104.2 L243.5,104.2 L243.9,104.2 L244.2,104.2 L244.6,104.2 L245.0,104.2 L245.3,104.2 L245.7,104.2 L246.1,104.2 L246.4,104.2 L246.8,104.2 L247.2,104.2 L247.5,104.2 L247.9,104.2 L248.3,104.2 L248.6,104.2 L249.0,104.2 L249.4,104.2 L249.7,104.2 L250.1,104.2 L250.4,104.2 L250.8,104.2 L251.2,104.2 L251.5,104.2 L251.9,104.2 L252.3,104.2 L252.6,104.2 L253.0,104.2 L253.4,104.2 L253.7,104.2 L254.1,104.2 L254.5,104.2 L254.8,104.2 L255.2,104.2 L255.6,104.2 L255.9,104.2 L256.3,104.2 L256.7,104.2 L257.0,104.2 L257.4,104.2 L257.8,104.2 L258.1,104.2 L258.5,104.2 L258.9,104.2 L259.2,104.2 L259.6,104.2 L259.9,104.2 L260.3,104.2 L260.7,104.2 L261.0,104.2 L261.4,104.2 L261.8,104.2 L262.1,104.2 L262.5,104.2 L262.9,104.2 L263.2,104.2 L263.6,104.2 L264.0,104.2 L264.3,104.2 L264.7,104.2 L265.1,104.2 L265.4,104.2 L344.4,104.2"/>
<path class="rd" d="M52.0,104.2 L131.0,104.2 L131.3,104.2 L131.7,104.2 L132.1,104.2 L132.4,104.2 L132.8,104.2 L133.2,104.2 L133.5,104.2 L133.9,104.2 L134.3,104.2 L134.6,104.2 L135.0,104.2 L135.4,104.2 L135.7,104.2 L136.1,104.2 L136.5,104.2 L136.8,104.2 L137.2,104.2 L137.5,104.2 L137.9,104.2 L138.3,104.2 L138.6,104.2 L139.0,104.2 L139.4,104.2 L139.7,104.2 L140.1,104.2 L140.5,104.2 L140.8,104.2 L141.2,104.2 L141.6,104.2 L141.9,104.2 L142.3,104.2 L142.7,104.2 L143.0,104.2 L143.4,104.2 L143.8,104.2 L144.1,104.2 L144.5,104.2 L144.9,104.2 L145.2,104.2 L145.6,104.2 L146.0,104.2 L146.3,104.2 L146.7,104.2 L147.0,104.2 L147.4,104.2 L147.8,104.2 L148.1,104.2 L148.5,104.2 L148.9,104.2 L149.2,104.2 L149.6,104.2 L150.0,104.2 L150.3,104.2 L150.7,104.2 L151.1,104.2 L151.4,104.2 L151.8,104.2 L152.2,104.2 L152.5,104.2 L152.9,104.2 L153.3,104.2 L153.6,104.2 L154.0,104.2 L154.4,104.2 L154.7,104.2 L155.1,104.2 L155.5,104.2 L155.8,104.2 L156.2,104.2 L156.5,104.2 L156.9,104.2 L157.3,104.2 L157.6,104.2 L158.0,104.2 L158.4,104.2 L158.7,104.2 L159.1,104.2 L159.5,104.2 L159.8,104.2 L160.2,104.2 L160.6,104.2 L160.9,104.2 L161.3,104.2 L161.7,104.2 L162.0,104.2 L162.4,104.2 L162.8,104.2 L163.1,104.2 L163.5,104.2 L163.9,104.2 L164.2,104.2 L164.6,104.2 L165.0,104.2 L165.3,104.2 L165.7,104.2 L166.0,104.2 L166.4,104.2 L166.8,104.2 L167.1,104.2 L167.5,104.2 L167.9,104.2 L168.2,104.2 L168.6,104.2 L169.0,104.2 L169.3,104.2 L169.7,104.2 L170.1,104.2 L170.4,104.2 L170.8,104.2 L171.2,104.2 L171.5,104.2 L171.9,104.2 L172.3,104.2 L172.6,104.2 L173.0,104.2 L173.4,104.2 L173.7,104.2 L174.1,104.2 L174.5,104.2 L174.8,104.2 L175.2,104.1 L175.5,104.1 L175.9,104.1 L176.3,104.0 L176.6,104.0 L177.0,103.9 L177.4,103.9 L177.7,103.8 L178.1,103.8 L178.5,103.7 L178.8,103.6 L179.2,103.5 L179.6,103.3 L179.9,103.2 L180.3,103.0 L180.7,102.8 L181.0,102.6 L181.4,102.3 L181.8,102.0 L182.1,101.6 L182.5,101.2 L182.9,100.8 L183.2,100.3 L183.6,99.8 L184.0,99.3 L184.3,98.7 L184.7,98.0 L185.0,97.4 L185.4,96.7 L185.8,96.0 L186.1,95.2 L186.5,94.5 L186.9,93.8 L187.2,93.0 L187.6,92.2 L188.0,91.4 L188.3,90.6 L188.7,89.8 L189.1,89.0 L189.4,88.1 L189.8,87.4 L190.2,86.8 L190.5,86.2 L190.9,85.7 L191.3,85.4 L191.6,85.4 L192.0,85.5 L192.4,85.8 L192.7,86.1 L193.1,86.4 L193.5,86.8 L193.8,87.1 L194.2,87.5 L194.5,87.9 L194.9,88.3 L195.3,88.7 L195.6,89.1 L196.0,89.5 L196.4,89.9 L196.7,90.3 L197.1,90.7 L197.5,91.0 L197.8,91.1 L198.2,91.2 L198.6,91.1 L198.9,91.0 L199.3,90.7 L199.7,90.3 L200.0,89.9 L200.4,89.5 L200.8,89.1 L201.1,88.7 L201.5,88.3 L201.9,87.9 L202.2,87.5 L202.6,87.1 L202.9,86.8 L203.3,86.4 L203.7,86.1 L204.0,85.8 L204.4,85.5 L204.8,85.4 L205.1,85.4 L205.5,85.7 L205.9,86.2 L206.2,86.8 L206.6,87.4 L207.0,88.1 L207.3,89.0 L207.7,89.8 L208.1,90.6 L208.4,91.4 L208.8,92.2 L209.2,93.0 L209.5,93.8 L209.9,94.5 L210.3,95.2 L210.6,96.0 L211.0,96.7 L211.4,97.4 L211.7,98.0 L212.1,98.7 L212.4,99.3 L212.8,99.8 L213.2,100.3 L213.5,100.8 L213.9,101.2 L214.3,101.6 L214.6,102.0 L215.0,102.3 L215.4,102.6 L215.7,102.8 L216.1,103.0 L216.5,103.2 L216.8,103.3 L217.2,103.5 L217.6,103.6 L217.9,103.7 L218.3,103.8 L218.7,103.8 L219.0,103.9 L219.4,103.9 L219.8,104.0 L220.1,104.0 L220.5,104.1 L220.9,104.1 L221.2,104.1 L221.6,104.2 L221.9,104.2 L222.3,104.2 L222.7,104.2 L223.0,104.2 L223.4,104.2 L223.8,104.2 L224.1,104.2 L224.5,104.2 L224.9,104.2 L225.2,104.2 L225.6,104.2 L226.0,104.2 L226.3,104.2 L226.7,104.2 L227.1,104.2 L227.4,104.2 L227.8,104.2 L228.2,104.2 L228.5,104.2 L228.9,104.2 L229.3,104.2 L229.6,104.2 L230.0,104.2 L230.4,104.2 L230.7,104.2 L231.1,104.2 L231.4,104.2 L231.8,104.2 L232.2,104.2 L232.5,104.2 L232.9,104.2 L233.3,104.2 L233.6,104.2 L234.0,104.2 L234.4,104.2 L234.7,104.2 L235.1,104.2 L235.5,104.2 L235.8,104.2 L236.2,104.2 L236.6,104.2 L236.9,104.2 L237.3,104.2 L237.7,104.2 L238.0,104.2 L238.4,104.2 L238.8,104.2 L239.1,104.2 L239.5,104.2 L239.9,104.2 L240.2,104.2 L240.6,104.2 L240.9,104.2 L241.3,104.2 L241.7,104.2 L242.0,104.2 L242.4,104.2 L242.8,104.2 L243.1,104.2 L243.5,104.2 L243.9,104.2 L244.2,104.2 L244.6,104.2 L245.0,104.2 L245.3,104.2 L245.7,104.2 L246.1,104.2 L246.4,104.2 L246.8,104.2 L247.2,104.2 L247.5,104.2 L247.9,104.2 L248.3,104.2 L248.6,104.2 L249.0,104.2 L249.4,104.2 L249.7,104.2 L250.1,104.2 L250.4,104.2 L250.8,104.2 L251.2,104.2 L251.5,104.2 L251.9,104.2 L252.3,104.2 L252.6,104.2 L253.0,104.2 L253.4,104.2 L253.7,104.2 L254.1,104.2 L254.5,104.2 L254.8,104.2 L255.2,104.2 L255.6,104.2 L255.9,104.2 L256.3,104.2 L256.7,104.2 L257.0,104.2 L257.4,104.2 L257.8,104.2 L258.1,104.2 L258.5,104.2 L258.9,104.2 L259.2,104.2 L259.6,104.2 L259.9,104.2 L260.3,104.2 L260.7,104.2 L261.0,104.2 L261.4,104.2 L261.8,104.2 L262.1,104.2 L262.5,104.2 L262.9,104.2 L263.2,104.2 L263.6,104.2 L264.0,104.2 L264.3,104.2 L264.7,104.2 L265.1,104.2 L265.4,104.2 L344.4,104.2"/>
<path class="gr" d="M52.0,104.2 L131.0,104.2 L131.3,104.2 L131.7,104.2 L132.1,104.2 L132.4,104.2 L132.8,104.2 L133.2,104.2 L133.5,104.2 L133.9,104.2 L134.3,104.2 L134.6,104.2 L135.0,104.2 L135.4,104.2 L135.7,104.2 L136.1,104.2 L136.5,104.2 L136.8,104.2 L137.2,104.2 L137.5,104.2 L137.9,104.2 L138.3,104.2 L138.6,104.2 L139.0,104.2 L139.4,104.2 L139.7,104.2 L140.1,104.2 L140.5,104.2 L140.8,104.2 L141.2,104.2 L141.6,104.2 L141.9,104.2 L142.3,104.2 L142.7,104.2 L143.0,104.2 L143.4,104.2 L143.8,104.2 L144.1,104.2 L144.5,104.2 L144.9,104.2 L145.2,104.2 L145.6,104.2 L146.0,104.2 L146.3,104.2 L146.7,104.2 L147.0,104.2 L147.4,104.2 L147.8,104.2 L148.1,104.2 L148.5,104.2 L148.9,104.2 L149.2,104.2 L149.6,104.2 L150.0,104.2 L150.3,104.2 L150.7,104.2 L151.1,104.2 L151.4,104.2 L151.8,104.2 L152.2,104.2 L152.5,104.2 L152.9,104.2 L153.3,104.2 L153.6,104.2 L154.0,104.2 L154.4,104.2 L154.7,104.2 L155.1,104.2 L155.5,104.2 L155.8,104.2 L156.2,104.2 L156.5,104.2 L156.9,104.2 L157.3,104.2 L157.6,104.2 L158.0,104.2 L158.4,104.2 L158.7,104.2 L159.1,104.2 L159.5,104.2 L159.8,104.2 L160.2,104.2 L160.6,104.2 L160.9,104.2 L161.3,104.2 L161.7,104.2 L162.0,104.2 L162.4,104.2 L162.8,104.2 L163.1,104.2 L163.5,104.2 L163.9,104.2 L164.2,104.2 L164.6,104.2 L165.0,104.2 L165.3,104.2 L165.7,104.2 L166.0,104.2 L166.4,104.2 L166.8,104.2 L167.1,104.2 L167.5,104.2 L167.9,104.2 L168.2,104.2 L168.6,104.2 L169.0,104.2 L169.3,104.2 L169.7,104.2 L170.1,104.2 L170.4,104.1 L170.8,104.1 L171.2,104.0 L171.5,104.0 L171.9,103.9 L172.3,103.9 L172.6,103.8 L173.0,103.7 L173.4,103.5 L173.7,103.3 L174.1,103.1 L174.5,102.9 L174.8,102.6 L175.2,102.3 L175.5,102.0 L175.9,101.7 L176.3,101.3 L176.6,100.9 L177.0,100.5 L177.4,100.0 L177.7,99.6 L178.1,99.1 L178.5,98.6 L178.8,98.1 L179.2,97.6 L179.6,97.1 L179.9,96.5 L180.3,96.0 L180.7,95.4 L181.0,94.8 L181.4,94.2 L181.8,93.5 L182.1,92.8 L182.5,92.2 L182.9,91.5 L183.2,90.8 L183.6,90.1 L184.0,89.3 L184.3,88.6 L184.7,88.0 L185.0,87.4 L185.4,86.8 L185.8,86.2 L186.1,85.8 L186.5,85.5 L186.9,85.3 L187.2,85.0 L187.6,84.8 L188.0,84.7 L188.3,84.7 L188.7,84.8 L189.1,85.0 L189.4,85.3 L189.8,85.7 L190.2,86.1 L190.5,86.5 L190.9,87.1 L191.3,87.8 L191.6,88.8 L192.0,89.8 L192.4,90.8 L192.7,91.9 L193.1,93.1 L193.5,94.4 L193.8,95.6 L194.2,96.7 L194.5,97.7 L194.9,98.7 L195.3,99.7 L195.6,100.6 L196.0,101.4 L196.4,102.1 L196.7,102.7 L197.1,103.2 L197.5,103.7 L197.8,104.1 L198.2,104.2 L198.6,104.1 L198.9,103.7 L199.3,103.2 L199.7,102.7 L200.0,102.1 L200.4,101.4 L200.8,100.6 L201.1,99.7 L201.5,98.7 L201.9,97.7 L202.2,96.7 L202.6,95.6 L202.9,94.4 L203.3,93.1 L203.7,91.9 L204.0,90.8 L204.4,89.8 L204.8,88.8 L205.1,87.8 L205.5,87.1 L205.9,86.5 L206.2,86.1 L206.6,85.7 L207.0,85.3 L207.3,85.0 L207.7,84.8 L208.1,84.7 L208.4,84.7 L208.8,84.8 L209.2,85.0 L209.5,85.3 L209.9,85.5 L210.3,85.8 L210.6,86.2 L211.0,86.8 L211.4,87.4 L211.7,88.0 L212.1,88.6 L212.4,89.3 L212.8,90.1 L213.2,90.8 L213.5,91.5 L213.9,92.2 L214.3,92.8 L214.6,93.5 L215.0,94.2 L215.4,94.8 L215.7,95.4 L216.1,96.0 L216.5,96.5 L216.8,97.1 L217.2,97.6 L217.6,98.1 L217.9,98.6 L218.3,99.1 L218.7,99.6 L219.0,100.0 L219.4,100.5 L219.8,100.9 L220.1,101.3 L220.5,101.7 L220.9,102.0 L221.2,102.3 L221.6,102.6 L221.9,102.9 L222.3,103.1 L222.7,103.3 L223.0,103.5 L223.4,103.7 L223.8,103.8 L224.1,103.9 L224.5,103.9 L224.9,104.0 L225.2,104.0 L225.6,104.1 L226.0,104.1 L226.3,104.2 L226.7,104.2 L227.1,104.2 L227.4,104.2 L227.8,104.2 L228.2,104.2 L228.5,104.2 L228.9,104.2 L229.3,104.2 L229.6,104.2 L230.0,104.2 L230.4,104.2 L230.7,104.2 L231.1,104.2 L231.4,104.2 L231.8,104.2 L232.2,104.2 L232.5,104.2 L232.9,104.2 L233.3,104.2 L233.6,104.2 L234.0,104.2 L234.4,104.2 L234.7,104.2 L235.1,104.2 L235.5,104.2 L235.8,104.2 L236.2,104.2 L236.6,104.2 L236.9,104.2 L237.3,104.2 L237.7,104.2 L238.0,104.2 L238.4,104.2 L238.8,104.2 L239.1,104.2 L239.5,104.2 L239.9,104.2 L240.2,104.2 L240.6,104.2 L240.9,104.2 L241.3,104.2 L241.7,104.2 L242.0,104.2 L242.4,104.2 L242.8,104.2 L243.1,104.2 L243.5,104.2 L243.9,104.2 L244.2,104.2 L244.6,104.2 L245.0,104.2 L245.3,104.2 L245.7,104.2 L246.1,104.2 L246.4,104.2 L246.8,104.2 L247.2,104.2 L247.5,104.2 L247.9,104.2 L248.3,104.2 L248.6,104.2 L249.0,104.2 L249.4,104.2 L249.7,104.2 L250.1,104.2 L250.4,104.2 L250.8,104.2 L251.2,104.2 L251.5,104.2 L251.9,104.2 L252.3,104.2 L252.6,104.2 L253.0,104.2 L253.4,104.2 L253.7,104.2 L254.1,104.2 L254.5,104.2 L254.8,104.2 L255.2,104.2 L255.6,104.2 L255.9,104.2 L256.3,104.2 L256.7,104.2 L257.0,104.2 L257.4,104.2 L257.8,104.2 L258.1,104.2 L258.5,104.2 L258.9,104.2 L259.2,104.2 L259.6,104.2 L259.9,104.2 L260.3,104.2 L260.7,104.2 L261.0,104.2 L261.4,104.2 L261.8,104.2 L262.1,104.2 L262.5,104.2 L262.9,104.2 L263.2,104.2 L263.6,104.2 L264.0,104.2 L264.3,104.2 L264.7,104.2 L265.1,104.2 L265.4,104.2 L344.4,104.2"/>
<path class="k" d="M52.0,159.2 L131.0,159.2 L131.3,159.2 L131.7,159.2 L132.1,159.2 L132.4,159.2 L132.8,159.2 L133.2,159.2 L133.5,159.2 L133.9,159.2 L134.3,159.2 L134.6,159.2 L135.0,159.2 L135.4,159.2 L135.7,159.2 L136.1,159.2 L136.5,159.2 L136.8,159.2 L137.2,159.2 L137.5,159.2 L137.9,159.2 L138.3,159.2 L138.6,159.2 L139.0,159.2 L139.4,159.2 L139.7,159.2 L140.1,159.2 L140.5,159.2 L140.8,159.2 L141.2,159.2 L141.6,159.2 L141.9,159.2 L142.3,159.2 L142.7,159.2 L143.0,159.2 L143.4,159.2 L143.8,159.2 L144.1,159.2 L144.5,159.2 L144.9,159.2 L145.2,159.2 L145.6,159.2 L146.0,159.2 L146.3,159.2 L146.7,159.2 L147.0,159.2 L147.4,159.2 L147.8,159.2 L148.1,159.2 L148.5,159.2 L148.9,159.2 L149.2,159.2 L149.6,159.2 L150.0,159.2 L150.3,159.2 L150.7,159.2 L151.1,159.2 L151.4,159.2 L151.8,159.2 L152.2,159.2 L152.5,159.2 L152.9,159.2 L153.3,159.2 L153.6,159.2 L154.0,159.2 L154.4,159.2 L154.7,159.2 L155.1,159.2 L155.5,159.2 L155.8,159.2 L156.2,159.2 L156.5,159.2 L156.9,159.2 L157.3,159.2 L157.6,159.2 L158.0,159.2 L158.4,159.2 L158.7,159.2 L159.1,159.2 L159.5,159.2 L159.8,159.2 L160.2,159.2 L160.6,159.2 L160.9,159.2 L161.3,159.2 L161.7,159.2 L162.0,159.2 L162.4,159.2 L162.8,159.2 L163.1,159.2 L163.5,159.2 L163.9,159.2 L164.2,159.2 L164.6,159.2 L165.0,159.2 L165.3,159.2 L165.7,159.2 L166.0,159.2 L166.4,159.2 L166.8,159.2 L167.1,159.2 L167.5,159.2 L167.9,159.2 L168.2,159.2 L168.6,159.2 L169.0,159.2 L169.3,159.2 L169.7,159.2 L170.1,159.2 L170.4,159.2 L170.8,159.2 L171.2,159.2 L171.5,159.2 L171.9,159.2 L172.3,159.2 L172.6,159.2 L173.0,159.2 L173.4,159.2 L173.7,159.2 L174.1,159.2 L174.5,159.2 L174.8,159.2 L175.2,159.2 L175.5,159.2 L175.9,159.2 L176.3,159.1 L176.6,159.0 L177.0,158.9 L177.4,158.7 L177.7,158.6 L178.1,158.4 L178.5,158.2 L178.8,157.9 L179.2,157.6 L179.6,157.2 L179.9,156.7 L180.3,156.2 L180.7,155.6 L181.0,154.8 L181.4,153.9 L181.8,152.8 L182.1,151.5 L182.5,150.2 L182.9,148.8 L183.2,147.2 L183.6,145.4 L184.0,143.6 L184.3,141.8 L184.7,139.8 L185.0,137.8 L185.4,135.7 L185.8,133.8 L186.1,131.9 L186.5,130.1 L186.9,128.3 L187.2,126.7 L187.6,125.1 L188.0,123.7 L188.3,122.8 L188.7,122.0 L189.1,121.4 L189.4,121.2 L189.8,121.7 L190.2,122.9 L190.5,124.3 L190.9,125.7 L191.3,127.2 L191.6,128.9 L192.0,130.6 L192.4,132.2 L192.7,133.9 L193.1,135.5 L193.5,137.0 L193.8,138.4 L194.2,139.8 L194.5,141.1 L194.9,142.3 L195.3,143.4 L195.6,144.5 L196.0,145.5 L196.4,146.3 L196.7,146.9 L197.1,147.4 L197.5,147.9 L197.8,148.2 L198.2,148.3 L198.6,148.2 L198.9,147.9 L199.3,147.4 L199.7,146.9 L200.0,146.3 L200.4,145.5 L200.8,144.5 L201.1,143.4 L201.5,142.3 L201.9,141.1 L202.2,139.8 L202.6,138.4 L202.9,137.0 L203.3,135.5 L203.7,133.9 L204.0,132.2 L204.4,130.6 L204.8,128.9 L205.1,127.2 L205.5,125.7 L205.9,124.3 L206.2,122.9 L206.6,121.7 L207.0,121.2 L207.3,121.4 L207.7,122.0 L208.1,122.8 L208.4,123.7 L208.8,125.1 L209.2,126.7 L209.5,128.3 L209.9,130.1 L210.3,131.9 L210.6,133.8 L211.0,135.7 L211.4,137.8 L211.7,139.8 L212.1,141.8 L212.4,143.6 L212.8,145.4 L213.2,147.2 L213.5,148.8 L213.9,150.2 L214.3,151.5 L214.6,152.8 L215.0,153.9 L215.4,154.8 L215.7,155.6 L216.1,156.2 L216.5,156.7 L216.8,157.2 L217.2,157.6 L217.6,157.9 L217.9,158.2 L218.3,158.4 L218.7,158.6 L219.0,158.7 L219.4,158.9 L219.8,159.0 L220.1,159.1 L220.5,159.2 L220.9,159.2 L221.2,159.2 L221.6,159.2 L221.9,159.2 L222.3,159.2 L222.7,159.2 L223.0,159.2 L223.4,159.2 L223.8,159.2 L224.1,159.2 L224.5,159.2 L224.9,159.2 L225.2,159.2 L225.6,159.2 L226.0,159.2 L226.3,159.2 L226.7,159.2 L227.1,159.2 L227.4,159.2 L227.8,159.2 L228.2,159.2 L228.5,159.2 L228.9,159.2 L229.3,159.2 L229.6,159.2 L230.0,159.2 L230.4,159.2 L230.7,159.2 L231.1,159.2 L231.4,159.2 L231.8,159.2 L232.2,159.2 L232.5,159.2 L232.9,159.2 L233.3,159.2 L233.6,159.2 L234.0,159.2 L234.4,159.2 L234.7,159.2 L235.1,159.2 L235.5,159.2 L235.8,159.2 L236.2,159.2 L236.6,159.2 L236.9,159.2 L237.3,159.2 L237.7,159.2 L238.0,159.2 L238.4,159.2 L238.8,159.2 L239.1,159.2 L239.5,159.2 L239.9,159.2 L240.2,159.2 L240.6,159.2 L240.9,159.2 L241.3,159.2 L241.7,159.2 L242.0,159.2 L242.4,159.2 L242.8,159.2 L243.1,159.2 L243.5,159.2 L243.9,159.2 L244.2,159.2 L244.6,159.2 L245.0,159.2 L245.3,159.2 L245.7,159.2 L246.1,159.2 L246.4,159.2 L246.8,159.2 L247.2,159.2 L247.5,159.2 L247.9,159.2 L248.3,159.2 L248.6,159.2 L249.0,159.2 L249.4,159.2 L249.7,159.2 L250.1,159.2 L250.4,159.2 L250.8,159.2 L251.2,159.2 L251.5,159.2 L251.9,159.2 L252.3,159.2 L252.6,159.2 L253.0,159.2 L253.4,159.2 L253.7,159.2 L254.1,159.2 L254.5,159.2 L254.8,159.2 L255.2,159.2 L255.6,159.2 L255.9,159.2 L256.3,159.2 L256.7,159.2 L257.0,159.2 L257.4,159.2 L257.8,159.2 L258.1,159.2 L258.5,159.2 L258.9,159.2 L259.2,159.2 L259.6,159.2 L259.9,159.2 L260.3,159.2 L260.7,159.2 L261.0,159.2 L261.4,159.2 L261.8,159.2 L262.1,159.2 L262.5,159.2 L262.9,159.2 L263.2,159.2 L263.6,159.2 L264.0,159.2 L264.3,159.2 L264.7,159.2 L265.1,159.2 L265.4,159.2 L344.4,159.2"/>
<path class="bl" d="M52.0,159.2 L131.0,159.2 L131.3,159.2 L131.7,159.2 L132.1,159.2 L132.4,159.2 L132.8,159.2 L133.2,159.2 L133.5,159.2 L133.9,159.2 L134.3,159.2 L134.6,159.2 L135.0,159.2 L135.4,159.2 L135.7,159.2 L136.1,159.2 L136.5,159.2 L136.8,159.2 L137.2,159.2 L137.5,159.2 L137.9,159.2 L138.3,159.2 L138.6,159.2 L139.0,159.2 L139.4,159.2 L139.7,159.2 L140.1,159.2 L140.5,159.2 L140.8,159.2 L141.2,159.1 L141.6,159.1 L141.9,159.1 L142.3,159.1 L142.7,159.0 L143.0,159.0 L143.4,159.0 L143.8,158.9 L144.1,158.9 L144.5,158.9 L144.9,158.8 L145.2,158.8 L145.6,158.7 L146.0,158.7 L146.3,158.6 L146.7,158.6 L147.0,158.5 L147.4,158.5 L147.8,158.4 L148.1,158.3 L148.5,158.3 L148.9,158.2 L149.2,158.1 L149.6,158.1 L150.0,158.0 L150.3,157.9 L150.7,157.9 L151.1,157.8 L151.4,157.7 L151.8,157.7 L152.2,157.6 L152.5,157.6 L152.9,157.5 L153.3,157.4 L153.6,157.3 L154.0,157.3 L154.4,157.2 L154.7,157.1 L155.1,157.0 L155.5,157.0 L155.8,156.9 L156.2,156.9 L156.5,156.8 L156.9,156.8 L157.3,156.8 L157.6,156.7 L158.0,156.7 L158.4,156.7 L158.7,156.8 L159.1,156.8 L159.5,156.8 L159.8,156.9 L160.2,157.0 L160.6,157.0 L160.9,157.1 L161.3,157.2 L161.7,157.2 L162.0,157.3 L162.4,157.4 L162.8,157.5 L163.1,157.5 L163.5,157.6 L163.9,157.7 L164.2,157.7 L164.6,157.8 L165.0,157.8 L165.3,157.8 L165.7,157.9 L166.0,157.9 L166.4,157.9 L166.8,157.9 L167.1,158.0 L167.5,158.0 L167.9,158.0 L168.2,158.0 L168.6,158.0 L169.0,158.0 L169.3,158.0 L169.7,158.0 L170.1,157.9 L170.4,157.7 L170.8,157.6 L171.2,157.4 L171.5,157.2 L171.9,157.0 L172.3,156.8 L172.6,156.6 L173.0,156.3 L173.4,155.9 L173.7,155.5 L174.1,155.1 L174.5,154.6 L174.8,154.1 L175.2,153.6 L175.5,152.9 L175.9,152.2 L176.3,151.5 L176.6,150.6 L177.0,149.8 L177.4,148.8 L177.7,147.8 L178.1,146.7 L178.5,145.6 L178.8,144.4 L179.2,143.2 L179.6,142.0 L179.9,140.7 L180.3,139.4 L180.7,138.1 L181.0,136.8 L181.4,135.7 L181.8,134.6 L182.1,133.6 L182.5,132.7 L182.9,131.9 L183.2,131.3 L183.6,130.7 L184.0,130.2 L184.3,129.9 L184.7,129.8 L185.0,129.9 L185.4,130.3 L185.8,130.8 L186.1,131.4 L186.5,132.1 L186.9,132.7 L187.2,133.3 L187.6,134.0 L188.0,134.7 L188.3,135.5 L188.7,136.4 L189.1,137.2 L189.4,138.2 L189.8,139.2 L190.2,140.4 L190.5,141.6 L190.9,142.9 L191.3,144.2 L191.6,145.4 L192.0,146.7 L192.4,148.1 L192.7,149.5 L193.1,150.8 L193.5,152.0 L193.8,153.1 L194.2,153.9 L194.5,154.6 L194.9,155.3 L195.3,155.9 L195.6,156.5 L196.0,156.9 L196.4,157.4 L196.7,157.8 L197.1,158.2 L197.5,158.6 L197.8,158.8 L198.2,158.9 L198.6,158.8 L198.9,158.6 L199.3,158.2 L199.7,157.8 L200.0,157.4 L200.4,156.9 L200.8,156.5 L201.1,155.9 L201.5,155.3 L201.9,154.6 L202.2,153.9 L202.6,153.1 L202.9,152.0 L203.3,150.8 L203.7,149.5 L204.0,148.1 L204.4,146.7 L204.8,145.4 L205.1,144.2 L205.5,142.9 L205.9,141.6 L206.2,140.4 L206.6,139.2 L207.0,138.2 L207.3,137.2 L207.7,136.4 L208.1,135.5 L208.4,134.7 L208.8,134.0 L209.2,133.3 L209.5,132.7 L209.9,132.1 L210.3,131.4 L210.6,130.8 L211.0,130.3 L211.4,129.9 L211.7,129.8 L212.1,129.9 L212.4,130.2 L212.8,130.7 L213.2,131.3 L213.5,131.9 L213.9,132.7 L214.3,133.6 L214.6,134.6 L215.0,135.7 L215.4,136.8 L215.7,138.1 L216.1,139.4 L216.5,140.7 L216.8,142.0 L217.2,143.3 L217.6,144.4 L217.9,145.6 L218.3,146.7 L218.7,147.8 L219.0,148.8 L219.4,149.8 L219.8,150.6 L220.1,151.5 L220.5,152.2 L220.9,152.9 L221.2,153.6 L221.6,154.1 L221.9,154.6 L222.3,155.1 L222.7,155.5 L223.0,155.9 L223.4,156.3 L223.8,156.6 L224.1,156.8 L224.5,157.0 L224.9,157.2 L225.2,157.4 L225.6,157.6 L226.0,157.7 L226.3,157.9 L226.7,158.0 L227.1,158.0 L227.4,158.0 L227.8,158.0 L228.2,158.0 L228.5,158.0 L228.9,158.0 L229.3,158.0 L229.6,157.9 L230.0,157.9 L230.4,157.9 L230.7,157.9 L231.1,157.8 L231.4,157.8 L231.8,157.7 L232.2,157.7 L232.5,157.7 L232.9,157.6 L233.3,157.5 L233.6,157.5 L234.0,157.4 L234.4,157.3 L234.7,157.2 L235.1,157.2 L235.5,157.1 L235.8,157.0 L236.2,157.0 L236.6,156.9 L236.9,156.8 L237.3,156.8 L237.7,156.8 L238.0,156.7 L238.4,156.7 L238.8,156.7 L239.1,156.8 L239.5,156.8 L239.9,156.8 L240.2,156.9 L240.6,156.9 L240.9,157.0 L241.3,157.0 L241.7,157.1 L242.0,157.2 L242.4,157.3 L242.8,157.3 L243.1,157.4 L243.5,157.5 L243.9,157.6 L244.2,157.6 L244.6,157.7 L245.0,157.8 L245.3,157.8 L245.7,157.9 L246.1,157.9 L246.4,158.0 L246.8,158.1 L247.2,158.1 L247.5,158.2 L247.9,158.3 L248.3,158.3 L248.6,158.4 L249.0,158.5 L249.4,158.5 L249.7,158.6 L250.1,158.6 L250.4,158.7 L250.8,158.7 L251.2,158.8 L251.5,158.8 L251.9,158.9 L252.3,158.9 L252.6,158.9 L253.0,159.0 L253.4,159.0 L253.7,159.0 L254.1,159.1 L254.5,159.1 L254.8,159.1 L255.2,159.1 L255.6,159.2 L255.9,159.2 L256.3,159.2 L256.7,159.2 L257.0,159.2 L257.4,159.2 L257.8,159.2 L258.1,159.2 L258.5,159.2 L258.9,159.2 L259.2,159.2 L259.6,159.2 L259.9,159.2 L260.3,159.2 L260.7,159.2 L261.0,159.2 L261.4,159.2 L261.8,159.2 L262.1,159.2 L262.5,159.2 L262.9,159.2 L263.2,159.2 L263.6,159.2 L264.0,159.2 L264.3,159.2 L264.7,159.2 L265.1,159.2 L265.4,159.2 L344.4,159.2"/>
<path class="rd" d="M52.0,159.2 L131.0,159.2 L131.3,159.2 L131.7,159.2 L132.1,159.2 L132.4,159.2 L132.8,159.2 L133.2,159.2 L133.5,159.2 L133.9,159.2 L134.3,159.2 L134.6,159.2 L135.0,159.2 L135.4,159.2 L135.7,159.2 L136.1,159.2 L136.5,159.2 L136.8,159.2 L137.2,159.2 L137.5,159.2 L137.9,159.2 L138.3,159.2 L138.6,159.2 L139.0,159.2 L139.4,159.2 L139.7,159.2 L140.1,159.2 L140.5,159.2 L140.8,159.2 L141.2,159.2 L141.6,159.2 L141.9,159.2 L142.3,159.1 L142.7,159.1 L143.0,159.1 L143.4,159.1 L143.8,159.0 L144.1,159.0 L144.5,159.0 L144.9,158.9 L145.2,158.9 L145.6,158.8 L146.0,158.8 L146.3,158.8 L146.7,158.7 L147.0,158.7 L147.4,158.6 L147.8,158.6 L148.1,158.5 L148.5,158.5 L148.9,158.4 L149.2,158.4 L149.6,158.3 L150.0,158.2 L150.3,158.2 L150.7,158.1 L151.1,158.0 L151.4,157.9 L151.8,157.8 L152.2,157.7 L152.5,157.7 L152.9,157.6 L153.3,157.5 L153.6,157.4 L154.0,157.3 L154.4,157.2 L154.7,157.1 L155.1,157.0 L155.5,157.0 L155.8,156.9 L156.2,156.8 L156.5,156.7 L156.9,156.6 L157.3,156.5 L157.6,156.4 L158.0,156.3 L158.4,156.2 L158.7,156.1 L159.1,156.1 L159.5,156.0 L159.8,155.9 L160.2,155.8 L160.6,155.7 L160.9,155.7 L161.3,155.6 L161.7,155.6 L162.0,155.6 L162.4,155.6 L162.8,155.6 L163.1,155.6 L163.5,155.6 L163.9,155.6 L164.2,155.7 L164.6,155.7 L165.0,155.7 L165.3,155.8 L165.7,155.8 L166.0,155.9 L166.4,155.9 L166.8,156.0 L167.1,156.0 L167.5,156.1 L167.9,156.1 L168.2,156.2 L168.6,156.2 L169.0,156.3 L169.3,156.4 L169.7,156.5 L170.1,156.6 L170.4,156.7 L170.8,156.8 L171.2,156.9 L171.5,157.0 L171.9,157.1 L172.3,157.2 L172.6,157.3 L173.0,157.4 L173.4,157.5 L173.7,157.5 L174.1,157.5 L174.5,157.6 L174.8,157.6 L175.2,157.6 L175.5,157.7 L175.9,157.7 L176.3,157.7 L176.6,157.7 L177.0,157.7 L177.4,157.7 L177.7,157.8 L178.1,157.7 L178.5,157.6 L178.8,157.4 L179.2,157.2 L179.6,156.9 L179.9,156.6 L180.3,156.2 L180.7,155.9 L181.0,155.5 L181.4,155.0 L181.8,154.4 L182.1,153.7 L182.5,153.0 L182.9,152.2 L183.2,151.3 L183.6,150.5 L184.0,149.6 L184.3,148.7 L184.7,147.7 L185.0,146.7 L185.4,145.6 L185.8,144.6 L186.1,143.5 L186.5,142.3 L186.9,141.1 L187.2,140.0 L187.6,138.8 L188.0,137.7 L188.3,136.4 L188.7,135.2 L189.1,134.2 L189.4,133.4 L189.8,132.8 L190.2,132.3 L190.5,131.8 L190.9,131.5 L191.3,131.4 L191.6,131.5 L192.0,131.8 L192.4,132.4 L192.7,133.0 L193.1,133.7 L193.5,134.4 L193.8,135.2 L194.2,136.1 L194.5,137.0 L194.9,137.9 L195.3,138.7 L195.6,139.3 L196.0,139.8 L196.4,140.3 L196.7,140.8 L197.1,141.2 L197.5,141.5 L197.8,141.7 L198.2,141.8 L198.6,141.7 L198.9,141.5 L199.3,141.2 L199.7,140.8 L200.0,140.3 L200.4,139.8 L200.8,139.3 L201.1,138.7 L201.5,137.9 L201.9,137.0 L202.2,136.1 L202.6,135.2 L202.9,134.4 L203.3,133.7 L203.7,133.0 L204.0,132.4 L204.4,131.8 L204.8,131.5 L205.1,131.4 L205.5,131.5 L205.9,131.8 L206.2,132.3 L206.6,132.8 L207.0,133.4 L207.3,134.2 L207.7,135.2 L208.1,136.4 L208.4,137.7 L208.8,138.8 L209.2,140.0 L209.5,141.1 L209.9,142.3 L210.3,143.5 L210.6,144.6 L211.0,145.6 L211.4,146.7 L211.7,147.7 L212.1,148.7 L212.4,149.6 L212.8,150.5 L213.2,151.3 L213.5,152.2 L213.9,153.0 L214.3,153.7 L214.6,154.4 L215.0,155.0 L215.4,155.5 L215.7,155.9 L216.1,156.2 L216.5,156.6 L216.8,156.9 L217.2,157.2 L217.6,157.4 L217.9,157.6 L218.3,157.7 L218.7,157.8 L219.0,157.7 L219.4,157.7 L219.8,157.7 L220.1,157.7 L220.5,157.7 L220.9,157.7 L221.2,157.6 L221.6,157.6 L221.9,157.6 L222.3,157.5 L222.7,157.5 L223.0,157.5 L223.4,157.4 L223.8,157.3 L224.1,157.2 L224.5,157.1 L224.9,157.0 L225.2,156.9 L225.6,156.8 L226.0,156.7 L226.3,156.6 L226.7,156.5 L227.1,156.4 L227.4,156.3 L227.8,156.2 L228.2,156.2 L228.5,156.1 L228.9,156.1 L229.3,156.0 L229.6,156.0 L230.0,155.9 L230.4,155.9 L230.7,155.8 L231.1,155.8 L231.4,155.7 L231.8,155.7 L232.2,155.7 L232.5,155.6 L232.9,155.6 L233.3,155.6 L233.6,155.6 L234.0,155.6 L234.4,155.6 L234.7,155.6 L235.1,155.6 L235.5,155.7 L235.8,155.7 L236.2,155.8 L236.6,155.9 L236.9,156.0 L237.3,156.1 L237.7,156.1 L238.0,156.2 L238.4,156.3 L238.8,156.4 L239.1,156.5 L239.5,156.6 L239.9,156.7 L240.2,156.8 L240.6,156.9 L240.9,157.0 L241.3,157.0 L241.7,157.1 L242.0,157.2 L242.4,157.3 L242.8,157.4 L243.1,157.5 L243.5,157.6 L243.9,157.7 L244.2,157.7 L244.6,157.8 L245.0,157.9 L245.3,158.0 L245.7,158.1 L246.1,158.2 L246.4,158.2 L246.8,158.3 L247.2,158.4 L247.5,158.4 L247.9,158.5 L248.3,158.5 L248.6,158.6 L249.0,158.6 L249.4,158.7 L249.7,158.7 L250.1,158.8 L250.4,158.8 L250.8,158.8 L251.2,158.9 L251.5,158.9 L251.9,159.0 L252.3,159.0 L252.6,159.0 L253.0,159.1 L253.4,159.1 L253.7,159.1 L254.1,159.1 L254.5,159.2 L254.8,159.2 L255.2,159.2 L255.6,159.2 L255.9,159.2 L256.3,159.2 L256.7,159.2 L257.0,159.2 L257.4,159.2 L257.8,159.2 L258.1,159.2 L258.5,159.2 L258.9,159.2 L259.2,159.2 L259.6,159.2 L259.9,159.2 L260.3,159.2 L260.7,159.2 L261.0,159.2 L261.4,159.2 L261.8,159.2 L262.1,159.2 L262.5,159.2 L262.9,159.2 L263.2,159.2 L263.6,159.2 L264.0,159.2 L264.3,159.2 L264.7,159.2 L265.1,159.2 L265.4,159.2 L344.4,159.2"/>
<path class="gr" d="M52.0,159.2 L131.0,159.2 L131.3,159.2 L131.7,159.2 L132.1,159.2 L132.4,159.2 L132.8,159.2 L133.2,159.2 L133.5,159.2 L133.9,159.2 L134.3,159.2 L134.6,159.2 L135.0,159.2 L135.4,159.2 L135.7,159.2 L136.1,159.2 L136.5,159.2 L136.8,159.2 L137.2,159.2 L137.5,159.2 L137.9,159.2 L138.3,159.2 L138.6,159.2 L139.0,159.2 L139.4,159.2 L139.7,159.2 L140.1,159.2 L140.5,159.2 L140.8,159.2 L141.2,159.2 L141.6,159.2 L141.9,159.2 L142.3,159.2 L142.7,159.2 L143.0,159.2 L143.4,159.2 L143.8,159.2 L144.1,159.2 L144.5,159.2 L144.9,159.2 L145.2,159.1 L145.6,159.1 L146.0,159.1 L146.3,159.1 L146.7,159.0 L147.0,159.0 L147.4,159.0 L147.8,158.9 L148.1,158.9 L148.5,158.9 L148.9,158.9 L149.2,158.8 L149.6,158.8 L150.0,158.8 L150.3,158.7 L150.7,158.7 L151.1,158.7 L151.4,158.6 L151.8,158.6 L152.2,158.5 L152.5,158.5 L152.9,158.4 L153.3,158.4 L153.6,158.3 L154.0,158.3 L154.4,158.2 L154.7,158.2 L155.1,158.1 L155.5,158.0 L155.8,158.0 L156.2,157.9 L156.5,157.9 L156.9,157.9 L157.3,157.8 L157.6,157.8 L158.0,157.8 L158.4,157.8 L158.7,157.8 L159.1,157.8 L159.5,157.8 L159.8,157.8 L160.2,157.8 L160.6,157.8 L160.9,157.8 L161.3,157.8 L161.7,157.8 L162.0,157.8 L162.4,157.9 L162.8,157.9 L163.1,157.9 L163.5,157.9 L163.9,157.9 L164.2,157.9 L164.6,158.0 L165.0,158.0 L165.3,158.0 L165.7,158.0 L166.0,158.0 L166.4,158.1 L166.8,158.1 L167.1,158.1 L167.5,158.1 L167.9,158.1 L168.2,158.2 L168.6,158.2 L169.0,158.2 L169.3,158.2 L169.7,158.3 L170.1,158.3 L170.4,158.3 L170.8,158.3 L171.2,158.3 L171.5,158.3 L171.9,158.3 L172.3,158.3 L172.6,158.3 L173.0,158.2 L173.4,158.1 L173.7,158.0 L174.1,157.9 L174.5,157.7 L174.8,157.6 L175.2,157.4 L175.5,157.2 L175.9,157.1 L176.3,156.8 L176.6,156.6 L177.0,156.2 L177.4,155.8 L177.7,155.3 L178.1,154.8 L178.5,154.3 L178.8,153.8 L179.2,153.2 L179.6,152.6 L179.9,151.9 L180.3,151.2 L180.7,150.4 L181.0,149.6 L181.4,148.7 L181.8,147.7 L182.1,146.6 L182.5,145.4 L182.9,144.2 L183.2,143.0 L183.6,141.7 L184.0,140.4 L184.3,139.0 L184.7,137.5 L185.0,136.0 L185.4,134.4 L185.8,132.8 L186.1,131.0 L186.5,129.3 L186.9,127.7 L187.2,125.9 L187.6,124.2 L188.0,122.9 L188.3,122.1 L188.7,121.3 L189.1,120.9 L189.4,121.4 L189.8,122.9 L190.2,125.1 L190.5,127.5 L190.9,129.6 L191.3,131.8 L191.6,134.1 L192.0,136.3 L192.4,138.1 L192.7,139.7 L193.1,141.2 L193.5,142.6 L193.8,144.0 L194.2,145.4 L194.5,146.8 L194.9,148.1 L195.3,149.3 L195.6,150.5 L196.0,151.5 L196.4,152.5 L196.7,153.1 L197.1,153.6 L197.5,154.0 L197.8,154.3 L198.2,154.4 L198.6,154.3 L198.9,154.0 L199.3,153.6 L199.7,153.1 L200.0,152.5 L200.4,151.5 L200.8,150.5 L201.1,149.3 L201.5,148.1 L201.9,146.8 L202.2,145.4 L202.6,144.0 L202.9,142.6 L203.3,141.2 L203.7,139.7 L204.0,138.1 L204.4,136.3 L204.8,134.1 L205.1,131.8 L205.5,129.6 L205.9,127.5 L206.2,125.1 L206.6,122.9 L207.0,121.4 L207.3,120.9 L207.7,121.3 L208.1,122.1 L208.4,123.0 L208.8,124.2 L209.2,125.9 L209.5,127.7 L209.9,129.3 L210.3,131.0 L210.6,132.8 L211.0,134.4 L211.4,136.0 L211.7,137.5 L212.1,139.0 L212.4,140.4 L212.8,141.7 L213.2,143.0 L213.5,144.2 L213.9,145.4 L214.3,146.6 L214.6,147.7 L215.0,148.7 L215.4,149.6 L215.7,150.4 L216.1,151.2 L216.5,151.9 L216.8,152.6 L217.2,153.2 L217.6,153.8 L217.9,154.3 L218.3,154.8 L218.7,155.3 L219.0,155.8 L219.4,156.2 L219.8,156.6 L220.1,156.8 L220.5,157.1 L220.9,157.2 L221.2,157.4 L221.6,157.6 L221.9,157.7 L222.3,157.9 L222.7,158.0 L223.0,158.1 L223.4,158.2 L223.8,158.3 L224.1,158.3 L224.5,158.3 L224.9,158.3 L225.2,158.3 L225.6,158.3 L226.0,158.3 L226.3,158.3 L226.7,158.3 L227.1,158.2 L227.4,158.2 L227.8,158.2 L228.2,158.2 L228.5,158.1 L228.9,158.1 L229.3,158.1 L229.6,158.1 L230.0,158.1 L230.4,158.0 L230.7,158.0 L231.1,158.0 L231.4,158.0 L231.8,158.0 L232.2,157.9 L232.5,157.9 L232.9,157.9 L233.3,157.9 L233.6,157.9 L234.0,157.9 L234.4,157.8 L234.7,157.8 L235.1,157.8 L235.5,157.8 L235.8,157.8 L236.2,157.8 L236.6,157.8 L236.9,157.8 L237.3,157.8 L237.7,157.8 L238.0,157.8 L238.4,157.8 L238.8,157.8 L239.1,157.8 L239.5,157.9 L239.9,157.9 L240.2,157.9 L240.6,158.0 L240.9,158.0 L241.3,158.1 L241.7,158.2 L242.0,158.2 L242.4,158.3 L242.8,158.3 L243.1,158.4 L243.5,158.4 L243.9,158.5 L244.2,158.5 L244.6,158.6 L245.0,158.6 L245.3,158.7 L245.7,158.7 L246.1,158.7 L246.4,158.8 L246.8,158.8 L247.2,158.8 L247.5,158.9 L247.9,158.9 L248.3,158.9 L248.6,158.9 L249.0,159.0 L249.4,159.0 L249.7,159.0 L250.1,159.1 L250.4,159.1 L250.8,159.1 L251.2,159.1 L251.5,159.2 L251.9,159.2 L252.3,159.2 L252.6,159.2 L253.0,159.2 L253.4,159.2 L253.7,159.2 L254.1,159.2 L254.5,159.2 L254.8,159.2 L255.2,159.2 L255.6,159.2 L255.9,159.2 L256.3,159.2 L256.7,159.2 L257.0,159.2 L257.4,159.2 L257.8,159.2 L258.1,159.2 L258.5,159.2 L258.9,159.2 L259.2,159.2 L259.6,159.2 L259.9,159.2 L260.3,159.2 L260.7,159.2 L261.0,159.2 L261.4,159.2 L261.8,159.2 L262.1,159.2 L262.5,159.2 L262.9,159.2 L263.2,159.2 L263.6,159.2 L264.0,159.2 L264.3,159.2 L264.7,159.2 L265.1,159.2 L265.4,159.2 L344.4,159.2"/>
<path class="k" d="M52.0,214.4 L131.0,214.4 L131.3,214.4 L131.7,214.4 L132.1,214.4 L132.4,214.4 L132.8,214.4 L133.2,214.4 L133.5,214.4 L133.9,214.4 L134.3,214.4 L134.6,214.4 L135.0,214.4 L135.4,214.4 L135.7,214.4 L136.1,214.4 L136.5,214.4 L136.8,214.4 L137.2,214.4 L137.5,214.4 L137.9,214.4 L138.3,214.4 L138.6,214.4 L139.0,214.4 L139.4,214.4 L139.7,214.4 L140.1,214.4 L140.5,214.4 L140.8,214.4 L141.2,214.4 L141.6,214.4 L141.9,214.4 L142.3,214.4 L142.7,214.4 L143.0,214.4 L143.4,214.4 L143.8,214.4 L144.1,214.4 L144.5,214.4 L144.9,214.4 L145.2,214.4 L145.6,214.4 L146.0,214.4 L146.3,214.4 L146.7,214.4 L147.0,214.4 L147.4,214.4 L147.8,214.4 L148.1,214.4 L148.5,214.4 L148.9,214.4 L149.2,214.4 L149.6,214.4 L150.0,214.4 L150.3,214.4 L150.7,214.4 L151.1,214.4 L151.4,214.4 L151.8,214.4 L152.2,214.4 L152.5,214.4 L152.9,214.4 L153.3,214.4 L153.6,214.4 L154.0,214.4 L154.4,214.4 L154.7,214.4 L155.1,214.4 L155.5,214.4 L155.8,214.4 L156.2,214.4 L156.5,214.4 L156.9,214.4 L157.3,214.4 L157.6,214.4 L158.0,214.4 L158.4,214.4 L158.7,214.4 L159.1,214.4 L159.5,214.4 L159.8,214.4 L160.2,214.4 L160.6,214.4 L160.9,214.4 L161.3,214.4 L161.7,214.4 L162.0,214.4 L162.4,214.4 L162.8,214.4 L163.1,214.4 L163.5,214.4 L163.9,214.4 L164.2,214.3 L164.6,214.3 L165.0,214.2 L165.3,214.1 L165.7,214.1 L166.0,214.0 L166.4,213.9 L166.8,213.8 L167.1,213.7 L167.5,213.6 L167.9,213.4 L168.2,213.2 L168.6,213.1 L169.0,212.8 L169.3,212.6 L169.7,212.4 L170.1,212.1 L170.4,211.7 L170.8,211.3 L171.2,210.8 L171.5,210.3 L171.9,209.8 L172.3,209.2 L172.6,208.7 L173.0,208.1 L173.4,207.5 L173.7,206.8 L174.1,206.1 L174.5,205.5 L174.8,204.8 L175.2,204.0 L175.5,203.2 L175.9,202.3 L176.3,201.5 L176.6,200.7 L177.0,200.0 L177.4,199.5 L177.7,199.0 L178.1,198.6 L178.5,198.2 L178.8,197.8 L179.2,197.6 L179.6,197.4 L179.9,197.3 L180.3,197.4 L180.7,197.5 L181.0,197.8 L181.4,198.1 L181.8,198.4 L182.1,198.7 L182.5,199.1 L182.9,199.5 L183.2,200.0 L183.6,200.6 L184.0,201.2 L184.3,201.9 L184.7,202.5 L185.0,203.0 L185.4,203.4 L185.8,203.8 L186.1,204.2 L186.5,204.6 L186.9,205.0 L187.2,205.3 L187.6,205.6 L188.0,205.8 L188.3,205.9 L188.7,205.8 L189.1,205.8 L189.4,205.7 L189.8,205.5 L190.2,205.4 L190.5,205.2 L190.9,205.0 L191.3,204.8 L191.6,204.4 L192.0,203.9 L192.4,203.4 L192.7,202.9 L193.1,202.4 L193.5,201.9 L193.8,201.4 L194.2,200.8 L194.5,200.3 L194.9,199.7 L195.3,199.2 L195.6,198.7 L196.0,198.4 L196.4,198.1 L196.7,197.8 L197.1,197.6 L197.5,197.4 L197.8,197.2 L198.2,197.2 L198.6,197.2 L198.9,197.4 L199.3,197.6 L199.7,197.8 L200.0,198.1 L200.4,198.4 L200.8,198.7 L201.1,199.2 L201.5,199.7 L201.9,200.3 L202.2,200.8 L202.6,201.4 L202.9,201.9 L203.3,202.4 L203.7,202.9 L204.0,203.4 L204.4,203.9 L204.8,204.4 L205.1,204.8 L205.5,205.0 L205.9,205.2 L206.2,205.4 L206.6,205.5 L207.0,205.7 L207.3,205.8 L207.7,205.8 L208.1,205.9 L208.4,205.8 L208.8,205.6 L209.2,205.3 L209.5,205.0 L209.9,204.6 L210.3,204.2 L210.6,203.8 L211.0,203.4 L211.4,203.0 L211.7,202.5 L212.1,201.9 L212.4,201.2 L212.8,200.6 L213.2,200.0 L213.5,199.5 L213.9,199.1 L214.3,198.7 L214.6,198.4 L215.0,198.1 L215.4,197.8 L215.7,197.5 L216.1,197.4 L216.5,197.3 L216.8,197.4 L217.2,197.6 L217.6,197.8 L217.9,198.2 L218.3,198.6 L218.7,199.0 L219.0,199.5 L219.4,200.0 L219.8,200.7 L220.1,201.5 L220.5,202.3 L220.9,203.2 L221.2,204.0 L221.6,204.8 L221.9,205.5 L222.3,206.1 L222.7,206.8 L223.0,207.5 L223.4,208.1 L223.8,208.7 L224.1,209.2 L224.5,209.8 L224.9,210.3 L225.2,210.8 L225.6,211.3 L226.0,211.7 L226.3,212.1 L226.7,212.4 L227.1,212.6 L227.4,212.8 L227.8,213.1 L228.2,213.2 L228.5,213.4 L228.9,213.6 L229.3,213.7 L229.6,213.8 L230.0,213.9 L230.4,214.0 L230.7,214.1 L231.1,214.1 L231.4,214.2 L231.8,214.3 L232.2,214.3 L232.5,214.4 L232.9,214.4 L233.3,214.4 L233.6,214.4 L234.0,214.4 L234.4,214.4 L234.7,214.4 L235.1,214.4 L235.5,214.4 L235.8,214.4 L236.2,214.4 L236.6,214.4 L236.9,214.4 L237.3,214.4 L237.7,214.4 L238.0,214.4 L238.4,214.4 L238.8,214.4 L239.1,214.4 L239.5,214.4 L239.9,214.4 L240.2,214.4 L240.6,214.4 L240.9,214.4 L241.3,214.4 L241.7,214.4 L242.0,214.4 L242.4,214.4 L242.8,214.4 L243.1,214.4 L243.5,214.4 L243.9,214.4 L244.2,214.4 L244.6,214.4 L245.0,214.4 L245.3,214.4 L245.7,214.4 L246.1,214.4 L246.4,214.4 L246.8,214.4 L247.2,214.4 L247.5,214.4 L247.9,214.4 L248.3,214.4 L248.6,214.4 L249.0,214.4 L249.4,214.4 L249.7,214.4 L250.1,214.4 L250.4,214.4 L250.8,214.4 L251.2,214.4 L251.5,214.4 L251.9,214.4 L252.3,214.4 L252.6,214.4 L253.0,214.4 L253.4,214.4 L253.7,214.4 L254.1,214.4 L254.5,214.4 L254.8,214.4 L255.2,214.4 L255.6,214.4 L255.9,214.4 L256.3,214.4 L256.7,214.4 L257.0,214.4 L257.4,214.4 L257.8,214.4 L258.1,214.4 L258.5,214.4 L258.9,214.4 L259.2,214.4 L259.6,214.4 L259.9,214.4 L260.3,214.4 L260.7,214.4 L261.0,214.4 L261.4,214.4 L261.8,214.4 L262.1,214.4 L262.5,214.4 L262.9,214.4 L263.2,214.4 L263.6,214.4 L264.0,214.4 L264.3,214.4 L264.7,214.4 L265.1,214.4 L265.4,214.4 L344.4,214.4"/>
<path class="bl" d="M52.0,214.4 L131.0,214.4 L131.3,214.4 L131.7,214.4 L132.1,214.4 L132.4,214.4 L132.8,214.4 L133.2,214.4 L133.5,214.4 L133.9,214.4 L134.3,214.4 L134.6,214.4 L135.0,214.4 L135.4,214.4 L135.7,214.4 L136.1,214.4 L136.5,214.4 L136.8,214.4 L137.2,214.4 L137.5,214.4 L137.9,214.4 L138.3,214.4 L138.6,214.4 L139.0,214.4 L139.4,214.4 L139.7,214.4 L140.1,214.4 L140.5,214.4 L140.8,214.4 L141.2,214.4 L141.6,214.4 L141.9,214.4 L142.3,214.4 L142.7,214.4 L143.0,214.4 L143.4,214.4 L143.8,214.4 L144.1,214.4 L144.5,214.4 L144.9,214.4 L145.2,214.4 L145.6,214.4 L146.0,214.4 L146.3,214.4 L146.7,214.4 L147.0,214.3 L147.4,214.3 L147.8,214.3 L148.1,214.3 L148.5,214.3 L148.9,214.3 L149.2,214.2 L149.6,214.2 L150.0,214.1 L150.3,214.1 L150.7,214.0 L151.1,214.0 L151.4,213.9 L151.8,213.8 L152.2,213.7 L152.5,213.7 L152.9,213.6 L153.3,213.5 L153.6,213.4 L154.0,213.4 L154.4,213.3 L154.7,213.2 L155.1,213.1 L155.5,213.0 L155.8,212.9 L156.2,212.8 L156.5,212.7 L156.9,212.5 L157.3,212.4 L157.6,212.3 L158.0,212.2 L158.4,212.0 L158.7,211.9 L159.1,211.7 L159.5,211.5 L159.8,211.3 L160.2,211.1 L160.6,210.9 L160.9,210.7 L161.3,210.5 L161.7,210.3 L162.0,210.1 L162.4,209.9 L162.8,209.8 L163.1,209.6 L163.5,209.4 L163.9,209.3 L164.2,209.1 L164.6,208.9 L165.0,208.7 L165.3,208.6 L165.7,208.4 L166.0,208.3 L166.4,208.2 L166.8,208.1 L167.1,208.0 L167.5,208.0 L167.9,208.0 L168.2,208.1 L168.6,208.1 L169.0,208.2 L169.3,208.3 L169.7,208.3 L170.1,208.4 L170.4,208.6 L170.8,208.7 L171.2,208.8 L171.5,208.9 L171.9,209.0 L172.3,209.1 L172.6,209.3 L173.0,209.5 L173.4,209.6 L173.7,209.8 L174.1,210.0 L174.5,210.2 L174.8,210.3 L175.2,210.4 L175.5,210.4 L175.9,210.4 L176.3,210.3 L176.6,210.2 L177.0,210.1 L177.4,209.9 L177.7,209.7 L178.1,209.5 L178.5,209.2 L178.8,208.9 L179.2,208.5 L179.6,208.0 L179.9,207.3 L180.3,206.5 L180.7,205.7 L181.0,204.9 L181.4,204.1 L181.8,203.2 L182.1,202.2 L182.5,201.2 L182.9,200.2 L183.2,199.2 L183.6,198.1 L184.0,197.0 L184.3,196.0 L184.7,195.0 L185.0,194.2 L185.4,193.5 L185.8,192.7 L186.1,192.1 L186.5,191.5 L186.9,191.2 L187.2,191.2 L187.6,191.4 L188.0,191.6 L188.3,192.1 L188.7,192.6 L189.1,193.1 L189.4,193.7 L189.8,194.5 L190.2,195.5 L190.5,196.6 L190.9,197.9 L191.3,199.3 L191.6,200.6 L192.0,201.9 L192.4,203.4 L192.7,205.0 L193.1,206.5 L193.5,207.8 L193.8,209.0 L194.2,210.0 L194.5,211.1 L194.9,212.0 L195.3,212.8 L195.6,213.5 L196.0,213.8 L196.4,214.0 L196.7,214.1 L197.1,214.2 L197.5,214.3 L197.8,214.4 L198.2,214.4 L198.6,214.4 L198.9,214.3 L199.3,214.2 L199.7,214.1 L200.0,214.0 L200.4,213.8 L200.8,213.5 L201.1,212.8 L201.5,212.0 L201.9,211.1 L202.2,210.0 L202.6,209.0 L202.9,207.8 L203.3,206.5 L203.7,205.0 L204.0,203.4 L204.4,201.9 L204.8,200.6 L205.1,199.3 L205.5,197.9 L205.9,196.6 L206.2,195.5 L206.6,194.5 L207.0,193.7 L207.3,193.1 L207.7,192.6 L208.1,192.1 L208.4,191.6 L208.8,191.4 L209.2,191.2 L209.5,191.2 L209.9,191.5 L210.3,192.1 L210.6,192.7 L211.0,193.5 L211.4,194.2 L211.7,195.0 L212.1,196.0 L212.4,197.0 L212.8,198.1 L213.2,199.2 L213.5,200.2 L213.9,201.2 L214.3,202.2 L214.6,203.2 L215.0,204.1 L215.4,204.9 L215.7,205.7 L216.1,206.5 L216.5,207.3 L216.8,208.0 L217.2,208.5 L217.6,208.9 L217.9,209.2 L218.3,209.5 L218.7,209.7 L219.0,209.9 L219.4,210.1 L219.8,210.2 L220.1,210.3 L220.5,210.4 L220.9,210.4 L221.2,210.4 L221.6,210.3 L221.9,210.2 L222.3,210.0 L222.7,209.8 L223.0,209.6 L223.4,209.5 L223.8,209.3 L224.1,209.1 L224.5,209.0 L224.9,208.9 L225.2,208.8 L225.6,208.7 L226.0,208.6 L226.3,208.4 L226.7,208.3 L227.1,208.3 L227.4,208.2 L227.8,208.1 L228.2,208.1 L228.5,208.0 L228.9,208.0 L229.3,208.0 L229.6,208.1 L230.0,208.2 L230.4,208.3 L230.7,208.4 L231.1,208.6 L231.4,208.7 L231.8,208.9 L232.2,209.1 L232.5,209.3 L232.9,209.4 L233.3,209.6 L233.6,209.8 L234.0,209.9 L234.4,210.1 L234.7,210.3 L235.1,210.5 L235.5,210.7 L235.8,210.9 L236.2,211.1 L236.6,211.3 L236.9,211.5 L237.3,211.7 L237.7,211.9 L238.0,212.0 L238.4,212.2 L238.8,212.3 L239.1,212.4 L239.5,212.5 L239.9,212.7 L240.2,212.8 L240.6,212.9 L240.9,213.0 L241.3,213.1 L241.7,213.2 L242.0,213.3 L242.4,213.4 L242.8,213.4 L243.1,213.5 L243.5,213.6 L243.9,213.7 L244.2,213.7 L244.6,213.8 L245.0,213.9 L245.3,214.0 L245.7,214.0 L246.1,214.1 L246.4,214.1 L246.8,214.2 L247.2,214.2 L247.5,214.3 L247.9,214.3 L248.3,214.3 L248.6,214.3 L249.0,214.3 L249.4,214.3 L249.7,214.4 L250.1,214.4 L250.4,214.4 L250.8,214.4 L251.2,214.4 L251.5,214.4 L251.9,214.4 L252.3,214.4 L252.6,214.4 L253.0,214.4 L253.4,214.4 L253.7,214.4 L254.1,214.4 L254.5,214.4 L254.8,214.4 L255.2,214.4 L255.6,214.4 L255.9,214.4 L256.3,214.4 L256.7,214.4 L257.0,214.4 L257.4,214.4 L257.8,214.4 L258.1,214.4 L258.5,214.4 L258.9,214.4 L259.2,214.4 L259.6,214.4 L259.9,214.4 L260.3,214.4 L260.7,214.4 L261.0,214.4 L261.4,214.4 L261.8,214.4 L262.1,214.4 L262.5,214.4 L262.9,214.4 L263.2,214.4 L263.6,214.4 L264.0,214.4 L264.3,214.4 L264.7,214.4 L265.1,214.4 L265.4,214.4 L344.4,214.4"/>
<path class="rd" d="M52.0,214.4 L131.0,214.4 L131.3,214.4 L131.7,214.4 L132.1,214.4 L132.4,214.4 L132.8,214.4 L133.2,214.4 L133.5,214.4 L133.9,214.4 L134.3,214.4 L134.6,214.4 L135.0,214.4 L135.4,214.4 L135.7,214.4 L136.1,214.4 L136.5,214.4 L136.8,214.4 L137.2,214.4 L137.5,214.4 L137.9,214.4 L138.3,214.4 L138.6,214.4 L139.0,214.4 L139.4,214.4 L139.7,214.4 L140.1,214.4 L140.5,214.4 L140.8,214.4 L141.2,214.4 L141.6,214.4 L141.9,214.4 L142.3,214.4 L142.7,214.4 L143.0,214.4 L143.4,214.4 L143.8,214.4 L144.1,214.4 L144.5,214.3 L144.9,214.3 L145.2,214.3 L145.6,214.3 L146.0,214.2 L146.3,214.2 L146.7,214.2 L147.0,214.2 L147.4,214.1 L147.8,214.1 L148.1,214.0 L148.5,214.0 L148.9,213.9 L149.2,213.8 L149.6,213.7 L150.0,213.7 L150.3,213.6 L150.7,213.5 L151.1,213.4 L151.4,213.3 L151.8,213.2 L152.2,213.1 L152.5,213.0 L152.9,212.9 L153.3,212.7 L153.6,212.6 L154.0,212.5 L154.4,212.3 L154.7,212.2 L155.1,212.0 L155.5,211.9 L155.8,211.7 L156.2,211.6 L156.5,211.4 L156.9,211.2 L157.3,211.1 L157.6,210.9 L158.0,210.7 L158.4,210.6 L158.7,210.4 L159.1,210.2 L159.5,210.0 L159.8,209.8 L160.2,209.6 L160.6,209.4 L160.9,209.2 L161.3,209.0 L161.7,208.8 L162.0,208.5 L162.4,208.2 L162.8,208.0 L163.1,207.7 L163.5,207.4 L163.9,207.2 L164.2,206.9 L164.6,206.7 L165.0,206.5 L165.3,206.3 L165.7,206.2 L166.0,206.0 L166.4,205.9 L166.8,205.8 L167.1,205.6 L167.5,205.5 L167.9,205.4 L168.2,205.3 L168.6,205.2 L169.0,205.1 L169.3,205.1 L169.7,205.0 L170.1,205.0 L170.4,205.0 L170.8,205.1 L171.2,205.2 L171.5,205.3 L171.9,205.4 L172.3,205.6 L172.6,205.7 L173.0,205.9 L173.4,206.0 L173.7,206.2 L174.1,206.4 L174.5,206.5 L174.8,206.7 L175.2,206.9 L175.5,207.1 L175.9,207.3 L176.3,207.6 L176.6,207.8 L177.0,208.0 L177.4,208.2 L177.7,208.4 L178.1,208.6 L178.5,208.8 L178.8,209.0 L179.2,209.1 L179.6,209.3 L179.9,209.3 L180.3,209.3 L180.7,209.2 L181.0,209.0 L181.4,208.8 L181.8,208.4 L182.1,208.1 L182.5,207.8 L182.9,207.4 L183.2,207.1 L183.6,206.7 L184.0,206.2 L184.3,205.8 L184.7,205.3 L185.0,204.8 L185.4,204.2 L185.8,203.6 L186.1,203.0 L186.5,202.3 L186.9,201.6 L187.2,200.9 L187.6,200.1 L188.0,199.3 L188.3,198.4 L188.7,197.6 L189.1,197.0 L189.4,196.7 L189.8,196.3 L190.2,196.0 L190.5,195.8 L190.9,195.6 L191.3,195.4 L191.6,195.4 L192.0,195.4 L192.4,195.5 L192.7,195.7 L193.1,195.9 L193.5,196.2 L193.8,196.4 L194.2,196.7 L194.5,197.0 L194.9,197.3 L195.3,197.6 L195.6,197.9 L196.0,198.2 L196.4,198.6 L196.7,199.0 L197.1,199.4 L197.5,199.7 L197.8,199.9 L198.2,200.0 L198.6,199.9 L198.9,199.7 L199.3,199.4 L199.7,199.0 L200.0,198.6 L200.4,198.2 L200.8,197.9 L201.1,197.6 L201.5,197.3 L201.9,197.0 L202.2,196.7 L202.6,196.4 L202.9,196.2 L203.3,195.9 L203.7,195.7 L204.0,195.5 L204.4,195.4 L204.8,195.4 L205.1,195.4 L205.5,195.6 L205.9,195.8 L206.2,196.0 L206.6,196.3 L207.0,196.7 L207.3,197.0 L207.7,197.6 L208.1,198.4 L208.4,199.3 L208.8,200.1 L209.2,200.9 L209.5,201.6 L209.9,202.3 L210.3,203.0 L210.6,203.6 L211.0,204.2 L211.4,204.8 L211.7,205.3 L212.1,205.8 L212.4,206.2 L212.8,206.7 L213.2,207.1 L213.5,207.4 L213.9,207.8 L214.3,208.1 L214.6,208.4 L215.0,208.8 L215.4,209.0 L215.7,209.2 L216.1,209.3 L216.5,209.3 L216.8,209.3 L217.2,209.1 L217.6,209.0 L217.9,208.8 L218.3,208.6 L218.7,208.4 L219.0,208.2 L219.4,208.0 L219.8,207.8 L220.1,207.6 L220.5,207.3 L220.9,207.1 L221.2,206.9 L221.6,206.7 L221.9,206.5 L222.3,206.4 L222.7,206.2 L223.0,206.0 L223.4,205.9 L223.8,205.7 L224.1,205.6 L224.5,205.4 L224.9,205.3 L225.2,205.2 L225.6,205.1 L226.0,205.0 L226.3,205.0 L226.7,205.0 L227.1,205.1 L227.4,205.1 L227.8,205.2 L228.2,205.3 L228.5,205.4 L228.9,205.5 L229.3,205.6 L229.6,205.8 L230.0,205.9 L230.4,206.0 L230.7,206.2 L231.1,206.3 L231.4,206.5 L231.8,206.7 L232.2,206.9 L232.5,207.2 L232.9,207.4 L233.3,207.7 L233.6,208.0 L234.0,208.2 L234.4,208.5 L234.7,208.8 L235.1,209.0 L235.5,209.2 L235.8,209.4 L236.2,209.6 L236.6,209.8 L236.9,210.0 L237.3,210.2 L237.7,210.4 L238.0,210.6 L238.4,210.7 L238.8,210.9 L239.1,211.1 L239.5,211.2 L239.9,211.4 L240.2,211.6 L240.6,211.7 L240.9,211.9 L241.3,212.0 L241.7,212.2 L242.0,212.3 L242.4,212.5 L242.8,212.6 L243.1,212.7 L243.5,212.9 L243.9,213.0 L244.2,213.1 L244.6,213.2 L245.0,213.3 L245.3,213.4 L245.7,213.5 L246.1,213.6 L246.4,213.7 L246.8,213.7 L247.2,213.8 L247.5,213.9 L247.9,214.0 L248.3,214.0 L248.6,214.1 L249.0,214.1 L249.4,214.2 L249.7,214.2 L250.1,214.2 L250.4,214.2 L250.8,214.3 L251.2,214.3 L251.5,214.3 L251.9,214.3 L252.3,214.4 L252.6,214.4 L253.0,214.4 L253.4,214.4 L253.7,214.4 L254.1,214.4 L254.5,214.4 L254.8,214.4 L255.2,214.4 L255.6,214.4 L255.9,214.4 L256.3,214.4 L256.7,214.4 L257.0,214.4 L257.4,214.4 L257.8,214.4 L258.1,214.4 L258.5,214.4 L258.9,214.4 L259.2,214.4 L259.6,214.4 L259.9,214.4 L260.3,214.4 L260.7,214.4 L261.0,214.4 L261.4,214.4 L261.8,214.4 L262.1,214.4 L262.5,214.4 L262.9,214.4 L263.2,214.4 L263.6,214.4 L264.0,214.4 L264.3,214.4 L264.7,214.4 L265.1,214.4 L265.4,214.4 L344.4,214.4"/>
<path class="gr" d="M52.0,214.4 L131.0,214.4 L131.3,214.4 L131.7,214.4 L132.1,214.4 L132.4,214.4 L132.8,214.4 L133.2,214.4 L133.5,214.4 L133.9,214.4 L134.3,214.4 L134.6,214.4 L135.0,214.4 L135.4,214.4 L135.7,214.4 L136.1,214.4 L136.5,214.4 L136.8,214.4 L137.2,214.4 L137.5,214.4 L137.9,214.4 L138.3,214.4 L138.6,214.4 L139.0,214.4 L139.4,214.4 L139.7,214.4 L140.1,214.4 L140.5,214.4 L140.8,214.4 L141.2,214.4 L141.6,214.4 L141.9,214.4 L142.3,214.4 L142.7,214.4 L143.0,214.4 L143.4,214.4 L143.8,214.4 L144.1,214.4 L144.5,214.4 L144.9,214.4 L145.2,214.4 L145.6,214.4 L146.0,214.4 L146.3,214.4 L146.7,214.4 L147.0,214.4 L147.4,214.4 L147.8,214.4 L148.1,214.4 L148.5,214.4 L148.9,214.4 L149.2,214.4 L149.6,214.4 L150.0,214.4 L150.3,214.4 L150.7,214.4 L151.1,214.4 L151.4,214.4 L151.8,214.4 L152.2,214.4 L152.5,214.4 L152.9,214.4 L153.3,214.4 L153.6,214.4 L154.0,214.4 L154.4,214.3 L154.7,214.3 L155.1,214.3 L155.5,214.3 L155.8,214.2 L156.2,214.2 L156.5,214.2 L156.9,214.1 L157.3,214.1 L157.6,214.1 L158.0,214.0 L158.4,214.0 L158.7,214.0 L159.1,213.9 L159.5,213.9 L159.8,213.9 L160.2,213.8 L160.6,213.8 L160.9,213.7 L161.3,213.7 L161.7,213.6 L162.0,213.6 L162.4,213.6 L162.8,213.5 L163.1,213.5 L163.5,213.4 L163.9,213.4 L164.2,213.3 L164.6,213.3 L165.0,213.2 L165.3,213.2 L165.7,213.1 L166.0,213.1 L166.4,213.1 L166.8,213.0 L167.1,213.0 L167.5,212.9 L167.9,212.9 L168.2,212.9 L168.6,212.8 L169.0,212.8 L169.3,212.7 L169.7,212.7 L170.1,212.7 L170.4,212.6 L170.8,212.6 L171.2,212.5 L171.5,212.4 L171.9,212.4 L172.3,212.3 L172.6,212.3 L173.0,212.2 L173.4,212.2 L173.7,212.2 L174.1,212.1 L174.5,212.1 L174.8,212.1 L175.2,212.0 L175.5,212.0 L175.9,212.0 L176.3,212.0 L176.6,211.9 L177.0,211.9 L177.4,211.9 L177.7,211.9 L178.1,212.0 L178.5,212.0 L178.8,212.0 L179.2,212.1 L179.6,212.1 L179.9,212.2 L180.3,212.2 L180.7,212.2 L181.0,212.1 L181.4,211.8 L181.8,211.4 L182.1,210.9 L182.5,210.4 L182.9,209.8 L183.2,208.9 L183.6,207.8 L184.0,206.4 L184.3,205.0 L184.7,203.0 L185.0,200.7 L185.4,198.1 L185.8,195.3 L186.1,192.2 L186.5,188.9 L186.9,185.0 L187.2,181.0 L187.6,178.1 L188.0,176.1 L188.3,174.2 L188.7,172.8 L189.1,172.0 L189.4,172.0 L189.8,172.8 L190.2,174.2 L190.5,176.0 L190.9,178.0 L191.3,180.7 L191.6,184.4 L192.0,188.2 L192.4,191.6 L192.7,195.1 L193.1,198.6 L193.5,202.1 L193.8,205.5 L194.2,207.8 L194.5,209.5 L194.9,210.9 L195.3,211.8 L195.6,212.5 L196.0,213.1 L196.4,213.5 L196.7,213.8 L197.1,214.0 L197.5,214.2 L197.8,214.4 L198.2,214.4 L198.6,214.4 L198.9,214.2 L199.3,214.0 L199.7,213.8 L200.0,213.5 L200.4,213.1 L200.8,212.5 L201.1,211.8 L201.5,210.8 L201.9,209.4 L202.2,207.7 L202.6,205.2 L202.9,201.7 L203.3,198.3 L203.7,194.9 L204.0,191.5 L204.4,188.0 L204.8,184.2 L205.1,180.9 L205.5,178.7 L205.9,176.7 L206.2,175.1 L206.6,174.0 L207.0,173.5 L207.3,173.9 L207.7,175.1 L208.1,176.7 L208.4,178.6 L208.8,181.0 L209.2,184.6 L209.5,188.6 L209.9,192.0 L210.3,195.1 L210.6,198.0 L211.0,200.5 L211.4,202.9 L211.7,204.9 L212.1,206.4 L212.4,207.8 L212.8,208.9 L213.2,209.8 L213.5,210.5 L213.9,211.0 L214.3,211.5 L214.6,211.9 L215.0,212.1 L215.4,212.3 L215.7,212.3 L216.1,212.2 L216.5,212.2 L216.8,212.2 L217.2,212.1 L217.6,212.1 L217.9,212.1 L218.3,212.0 L218.7,212.0 L219.0,212.0 L219.4,212.0 L219.8,212.1 L220.1,212.1 L220.5,212.1 L220.9,212.1 L221.2,212.2 L221.6,212.2 L221.9,212.2 L222.3,212.3 L222.7,212.3 L223.0,212.3 L223.4,212.4 L223.8,212.4 L224.1,212.5 L224.5,212.5 L224.9,212.6 L225.2,212.6 L225.6,212.7 L226.0,212.7 L226.3,212.8 L226.7,212.8 L227.1,212.9 L227.4,212.9 L227.8,212.9 L228.2,213.0 L228.5,213.0 L228.9,213.1 L229.3,213.1 L229.6,213.1 L230.0,213.2 L230.4,213.2 L230.7,213.3 L231.1,213.3 L231.4,213.3 L231.8,213.4 L232.2,213.4 L232.5,213.5 L232.9,213.5 L233.3,213.6 L233.6,213.6 L234.0,213.7 L234.4,213.7 L234.7,213.8 L235.1,213.8 L235.5,213.9 L235.8,213.9 L236.2,213.9 L236.6,214.0 L236.9,214.0 L237.3,214.0 L237.7,214.1 L238.0,214.1 L238.4,214.1 L238.8,214.2 L239.1,214.2 L239.5,214.2 L239.9,214.2 L240.2,214.3 L240.6,214.3 L240.9,214.3 L241.3,214.4 L241.7,214.4 L242.0,214.4 L242.4,214.4 L242.8,214.4 L243.1,214.4 L243.5,214.4 L243.9,214.4 L244.2,214.4 L244.6,214.4 L245.0,214.4 L245.3,214.4 L245.7,214.4 L246.1,214.4 L246.4,214.4 L246.8,214.4 L247.2,214.4 L247.5,214.4 L247.9,214.4 L248.3,214.4 L248.6,214.4 L249.0,214.4 L249.4,214.4 L249.7,214.4 L250.1,214.4 L250.4,214.4 L250.8,214.4 L251.2,214.4 L251.5,214.4 L251.9,214.4 L252.3,214.4 L252.6,214.4 L253.0,214.4 L253.4,214.4 L253.7,214.4 L254.1,214.4 L254.5,214.4 L254.8,214.4 L255.2,214.4 L255.6,214.4 L255.9,214.4 L256.3,214.4 L256.7,214.4 L257.0,214.4 L257.4,214.4 L257.8,214.4 L258.1,214.4 L258.5,214.4 L258.9,214.4 L259.2,214.4 L259.6,214.4 L259.9,214.4 L260.3,214.4 L260.7,214.4 L261.0,214.4 L261.4,214.4 L261.8,214.4 L262.1,214.4 L262.5,214.4 L262.9,214.4 L263.2,214.4 L263.6,214.4 L264.0,214.4 L264.3,214.4 L264.7,214.4 L265.1,214.4 L265.4,214.4 L344.4,214.4"/>
</g>
<line x1="52.0" y1="4.5" x2="344.5" y2="4.5" stroke="#333" stroke-width="1"/>
<line x1="52.0" y1="58.5" x2="344.5" y2="58.5" stroke="#333" stroke-width="1"/>
<line x1="52.0" y1="112.5" x2="344.5" y2="112.5" stroke="#333" stroke-width="1"/>
<line x1="52.0" y1="166.5" x2="344.5" y2="166.5" stroke="#333" stroke-width="1"/>
<line x1="52.0" y1="220.5" x2="344.5" y2="220.5" stroke="#333" stroke-width="1"/>
<line x1="52.0" y1="4" x2="52.0" y2="224.5" stroke="#333" stroke-width="1.6"/>
<line x1="344.5" y1="4" x2="344.5" y2="224.5" stroke="#333" stroke-width="1"/>
<line x1="88.5" y1="4.5" x2="88.5" y2="6.5" stroke="#333" stroke-width="1"/>
<line x1="125.5" y1="4.5" x2="125.5" y2="8.5" stroke="#333" stroke-width="1"/>
<line x1="161.5" y1="4.5" x2="161.5" y2="6.5" stroke="#333" stroke-width="1"/>
<line x1="198.5" y1="4.5" x2="198.5" y2="8.5" stroke="#333" stroke-width="1"/>
<line x1="234.5" y1="4.5" x2="234.5" y2="6.5" stroke="#333" stroke-width="1"/>
<line x1="271.5" y1="4.5" x2="271.5" y2="8.5" stroke="#333" stroke-width="1"/>
<line x1="307.5" y1="4.5" x2="307.5" y2="6.5" stroke="#333" stroke-width="1"/>
<line x1="88.5" y1="58.5" x2="88.5" y2="60.5" stroke="#333" stroke-width="1"/>
<line x1="125.5" y1="58.5" x2="125.5" y2="62.5" stroke="#333" stroke-width="1"/>
<line x1="161.5" y1="58.5" x2="161.5" y2="60.5" stroke="#333" stroke-width="1"/>
<line x1="198.5" y1="58.5" x2="198.5" y2="62.5" stroke="#333" stroke-width="1"/>
<line x1="234.5" y1="58.5" x2="234.5" y2="60.5" stroke="#333" stroke-width="1"/>
<line x1="271.5" y1="58.5" x2="271.5" y2="62.5" stroke="#333" stroke-width="1"/>
<line x1="307.5" y1="58.5" x2="307.5" y2="60.5" stroke="#333" stroke-width="1"/>
<line x1="88.5" y1="112.5" x2="88.5" y2="114.5" stroke="#333" stroke-width="1"/>
<line x1="125.5" y1="112.5" x2="125.5" y2="116.5" stroke="#333" stroke-width="1"/>
<line x1="161.5" y1="112.5" x2="161.5" y2="114.5" stroke="#333" stroke-width="1"/>
<line x1="198.5" y1="112.5" x2="198.5" y2="116.5" stroke="#333" stroke-width="1"/>
<line x1="234.5" y1="112.5" x2="234.5" y2="114.5" stroke="#333" stroke-width="1"/>
<line x1="271.5" y1="112.5" x2="271.5" y2="116.5" stroke="#333" stroke-width="1"/>
<line x1="307.5" y1="112.5" x2="307.5" y2="114.5" stroke="#333" stroke-width="1"/>
<line x1="88.5" y1="166.5" x2="88.5" y2="168.5" stroke="#333" stroke-width="1"/>
<line x1="125.5" y1="166.5" x2="125.5" y2="170.5" stroke="#333" stroke-width="1"/>
<line x1="161.5" y1="166.5" x2="161.5" y2="168.5" stroke="#333" stroke-width="1"/>
<line x1="198.5" y1="166.5" x2="198.5" y2="170.5" stroke="#333" stroke-width="1"/>
<line x1="234.5" y1="166.5" x2="234.5" y2="168.5" stroke="#333" stroke-width="1"/>
<line x1="271.5" y1="166.5" x2="271.5" y2="170.5" stroke="#333" stroke-width="1"/>
<line x1="307.5" y1="166.5" x2="307.5" y2="168.5" stroke="#333" stroke-width="1"/>
<line x1="88.5" y1="220.5" x2="88.5" y2="222.5" stroke="#333" stroke-width="1"/>
<line x1="125.5" y1="220.5" x2="125.5" y2="224.5" stroke="#333" stroke-width="1"/>
<line x1="161.5" y1="220.5" x2="161.5" y2="222.5" stroke="#333" stroke-width="1"/>
<line x1="198.5" y1="220.5" x2="198.5" y2="224.5" stroke="#333" stroke-width="1"/>
<line x1="234.5" y1="220.5" x2="234.5" y2="222.5" stroke="#333" stroke-width="1"/>
<line x1="271.5" y1="220.5" x2="271.5" y2="224.5" stroke="#333" stroke-width="1"/>
<line x1="307.5" y1="220.5" x2="307.5" y2="222.5" stroke="#333" stroke-width="1"/>
<line x1="47.0" y1="52.50" x2="52.0" y2="52.50" stroke="#333" stroke-width="1"/>
<line x1="340.5" y1="52.50" x2="344.5" y2="52.50" stroke="#333" stroke-width="1"/>
<line x1="47.0" y1="28.50" x2="52.0" y2="28.50" stroke="#333" stroke-width="1"/>
<line x1="340.5" y1="28.50" x2="344.5" y2="28.50" stroke="#333" stroke-width="1"/>
<line x1="47.0" y1="4.50" x2="52.0" y2="4.50" stroke="#333" stroke-width="1"/>
<line x1="340.5" y1="4.50" x2="344.5" y2="4.50" stroke="#333" stroke-width="1"/>
<line x1="49.0" y1="40.50" x2="52.0" y2="40.50" stroke="#333" stroke-width="1"/>
<line x1="342.5" y1="40.50" x2="344.5" y2="40.50" stroke="#333" stroke-width="1"/>
<line x1="49.0" y1="16.50" x2="52.0" y2="16.50" stroke="#333" stroke-width="1"/>
<line x1="342.5" y1="16.50" x2="344.5" y2="16.50" stroke="#333" stroke-width="1"/>
<line x1="47.0" y1="104.20" x2="52.0" y2="104.20" stroke="#333" stroke-width="1"/>
<line x1="340.5" y1="104.20" x2="344.5" y2="104.20" stroke="#333" stroke-width="1"/>
<line x1="47.0" y1="87.45" x2="52.0" y2="87.45" stroke="#333" stroke-width="1"/>
<line x1="340.5" y1="87.45" x2="344.5" y2="87.45" stroke="#333" stroke-width="1"/>
<line x1="47.0" y1="70.70" x2="52.0" y2="70.70" stroke="#333" stroke-width="1"/>
<line x1="340.5" y1="70.70" x2="344.5" y2="70.70" stroke="#333" stroke-width="1"/>
<line x1="49.0" y1="95.83" x2="52.0" y2="95.83" stroke="#333" stroke-width="1"/>
<line x1="342.5" y1="95.83" x2="344.5" y2="95.83" stroke="#333" stroke-width="1"/>
<line x1="49.0" y1="79.08" x2="52.0" y2="79.08" stroke="#333" stroke-width="1"/>
<line x1="342.5" y1="79.08" x2="344.5" y2="79.08" stroke="#333" stroke-width="1"/>
<line x1="49.0" y1="62.33" x2="52.0" y2="62.33" stroke="#333" stroke-width="1"/>
<line x1="342.5" y1="62.33" x2="344.5" y2="62.33" stroke="#333" stroke-width="1"/>
<line x1="47.0" y1="159.20" x2="52.0" y2="159.20" stroke="#333" stroke-width="1"/>
<line x1="340.5" y1="159.20" x2="344.5" y2="159.20" stroke="#333" stroke-width="1"/>
<line x1="47.0" y1="144.70" x2="52.0" y2="144.70" stroke="#333" stroke-width="1"/>
<line x1="340.5" y1="144.70" x2="344.5" y2="144.70" stroke="#333" stroke-width="1"/>
<line x1="47.0" y1="130.20" x2="52.0" y2="130.20" stroke="#333" stroke-width="1"/>
<line x1="340.5" y1="130.20" x2="344.5" y2="130.20" stroke="#333" stroke-width="1"/>
<line x1="47.0" y1="115.70" x2="52.0" y2="115.70" stroke="#333" stroke-width="1"/>
<line x1="340.5" y1="115.70" x2="344.5" y2="115.70" stroke="#333" stroke-width="1"/>
<line x1="49.0" y1="151.95" x2="52.0" y2="151.95" stroke="#333" stroke-width="1"/>
<line x1="342.5" y1="151.95" x2="344.5" y2="151.95" stroke="#333" stroke-width="1"/>
<line x1="49.0" y1="137.45" x2="52.0" y2="137.45" stroke="#333" stroke-width="1"/>
<line x1="342.5" y1="137.45" x2="344.5" y2="137.45" stroke="#333" stroke-width="1"/>
<line x1="49.0" y1="122.95" x2="52.0" y2="122.95" stroke="#333" stroke-width="1"/>
<line x1="342.5" y1="122.95" x2="344.5" y2="122.95" stroke="#333" stroke-width="1"/>
<line x1="47.0" y1="214.40" x2="52.0" y2="214.40" stroke="#333" stroke-width="1"/>
<line x1="340.5" y1="214.40" x2="344.5" y2="214.40" stroke="#333" stroke-width="1"/>
<line x1="47.0" y1="190.34" x2="52.0" y2="190.34" stroke="#333" stroke-width="1"/>
<line x1="340.5" y1="190.34" x2="344.5" y2="190.34" stroke="#333" stroke-width="1"/>
<line x1="47.0" y1="166.28" x2="52.0" y2="166.28" stroke="#333" stroke-width="1"/>
<line x1="340.5" y1="166.28" x2="344.5" y2="166.28" stroke="#333" stroke-width="1"/>
<line x1="49.0" y1="202.37" x2="52.0" y2="202.37" stroke="#333" stroke-width="1"/>
<line x1="342.5" y1="202.37" x2="344.5" y2="202.37" stroke="#333" stroke-width="1"/>
<line x1="49.0" y1="178.31" x2="52.0" y2="178.31" stroke="#333" stroke-width="1"/>
<line x1="342.5" y1="178.31" x2="344.5" y2="178.31" stroke="#333" stroke-width="1"/>
<text x="44.6" y="55.90" text-anchor="end" class="tl">0</text>
<text x="44.6" y="31.90" text-anchor="end" class="tl">2</text>
<text x="44.6" y="7.90" text-anchor="end" class="tl">4</text>
<text x="44.6" y="107.60" text-anchor="end" class="tl">0</text>
<text x="44.6" y="90.85" text-anchor="end" class="tl">2</text>
<text x="44.6" y="74.10" text-anchor="end" class="tl">4</text>
<text x="44.6" y="162.60" text-anchor="end" class="tl">0</text>
<text x="44.6" y="148.10" text-anchor="end" class="tl">1</text>
<text x="44.6" y="133.60" text-anchor="end" class="tl">2</text>
<text x="44.6" y="119.10" text-anchor="end" class="tl">3</text>
<text x="44.6" y="217.80" text-anchor="end" class="tl">0</text>
<text x="44.6" y="193.74" text-anchor="end" class="tl">2</text>
<text x="44.6" y="171.38" text-anchor="end" class="tl">4</text>
<text x="52.05" y="236.8" text-anchor="middle" class="tl">-10</text>
<text x="125.12" y="236.8" text-anchor="middle" class="tl">-5</text>
<text x="198.20" y="236.8" text-anchor="middle" class="tl">0</text>
<text x="271.27" y="236.8" text-anchor="middle" class="tl">5</text>
<text x="344.35" y="236.8" text-anchor="middle" class="tl">10</text>
<text x="314.78" y="15.15" style="font-family:'Liberation Sans',sans-serif;font-style:normal;font-size:10px" class="pll">(a)</text>
<text x="314.78" y="76.50" style="font-family:'Liberation Sans',sans-serif;font-style:normal;font-size:10px" class="pll">(b)</text>
<text x="314.78" y="129.95" style="font-family:'Liberation Sans',sans-serif;font-style:normal;font-size:10px" class="pll">(c)</text>
<text x="314.78" y="183.45" style="font-family:'Liberation Sans',sans-serif;font-style:normal;font-size:10px" class="pll">(d)</text>
<line x1="65" y1="15.8" x2="89" y2="15.8" stroke="#444" stroke-width="1.3"/>
<line x1="65" y1="34.5" x2="89" y2="34.5" class="rd"/>
<line x1="225.5" y1="15.8" x2="248.5" y2="15.8" class="bl"/>
<line x1="224.6" y1="34.5" x2="248.5" y2="34.5" stroke="#007a1e" stroke-width="1.9" stroke-dasharray="1.8 1.2"/>
<text x="91.60" y="19.50" style="font-family:'Liberation Serif',serif;font-style:normal;font-size:10.0px" class="lgt">|</text>
<text x="93.66" y="19.50" style="font-family:'Liberation Serif',serif;font-style:normal;font-size:10.0px" class="lgt">&#936;</text>
<text x="101.10" y="23.30" style="font-family:'Liberation Serif',serif;font-style:normal;font-size:6.2px" class="lgt">1,2</text>
<text x="109.03" y="19.50" style="font-family:'Liberation Serif',serif;font-style:normal;font-size:10.0px" class="lgt">|</text>
<text x="111.09" y="13.30" style="font-family:'Liberation Serif',serif;font-style:normal;font-size:6.2px" class="lgt">2</text>
<text x="114.25" y="19.50" style="font-family:'Liberation Serif',serif;font-style:normal;font-size:10.0px" class="lgt">,</text>
<text x="116.81" y="19.50" style="font-family:'Liberation Serif',serif;font-style:italic;font-size:10.0px" class="lgt">&#948;</text>
<text x="121.52" y="23.30" style="font-family:'Liberation Serif',serif;font-style:normal;font-size:6.2px" class="lgt">1</text>
<text x="124.68" y="19.50" style="font-family:'Liberation Serif',serif;font-style:normal;font-size:10.0px" class="lgt">=</text>
<text x="130.38" y="19.50" style="font-family:'Liberation Serif',serif;font-style:italic;font-size:10.0px" class="lgt">&#948;</text>
<text x="135.09" y="23.30" style="font-family:'Liberation Serif',serif;font-style:normal;font-size:6.2px" class="lgt">2</text>
<text x="138.25" y="19.50" style="font-family:'Liberation Serif',serif;font-style:normal;font-size:10.0px" class="lgt">=0</text>
<text x="91.60" y="38.40" style="font-family:'Liberation Serif',serif;font-style:normal;font-size:10.0px" class="lgt">|</text>
<text x="93.66" y="38.40" style="font-family:'Liberation Serif',serif;font-style:normal;font-size:10.0px" class="lgt">&#936;</text>
<text x="101.10" y="42.20" style="font-family:'Liberation Serif',serif;font-style:normal;font-size:6.2px" class="lgt">1</text>
<text x="104.26" y="38.40" style="font-family:'Liberation Serif',serif;font-style:normal;font-size:10.0px" class="lgt">|</text>
<text x="106.32" y="32.20" style="font-family:'Liberation Serif',serif;font-style:normal;font-size:6.2px" class="lgt">2</text>
<text x="109.48" y="38.40" style="font-family:'Liberation Serif',serif;font-style:normal;font-size:10.0px" class="lgt">,</text>
<text x="112.04" y="38.40" style="font-family:'Liberation Serif',serif;font-style:italic;font-size:10.0px" class="lgt">&#948;</text>
<text x="116.75" y="42.20" style="font-family:'Liberation Serif',serif;font-style:normal;font-size:6.2px" class="lgt">1</text>
<text x="119.91" y="38.40" style="font-family:'Liberation Serif',serif;font-style:normal;font-size:10.0px" class="lgt">=0,</text>
<text x="133.23" y="38.40" style="font-family:'Liberation Serif',serif;font-style:italic;font-size:10.0px" class="lgt">&#948;</text>
<text x="137.94" y="42.20" style="font-family:'Liberation Serif',serif;font-style:normal;font-size:6.2px" class="lgt">2</text>
<text x="141.10" y="38.40" style="font-family:'Liberation Serif',serif;font-style:normal;font-size:10.0px" class="lgt">=</text>
<text x="146.80" y="38.40" style="font-family:'Liberation Serif',serif;font-style:italic;font-size:10.0px" class="lgt">&#960;</text>
<text x="252.20" y="19.50" style="font-family:'Liberation Serif',serif;font-style:normal;font-size:10.0px" class="lgt">|</text>
<text x="254.26" y="19.50" style="font-family:'Liberation Serif',serif;font-style:normal;font-size:10.0px" class="lgt">&#936;</text>
<text x="261.70" y="23.30" style="font-family:'Liberation Serif',serif;font-style:normal;font-size:6.2px" class="lgt">1,2</text>
<text x="269.63" y="19.50" style="font-family:'Liberation Serif',serif;font-style:normal;font-size:10.0px" class="lgt">|</text>
<text x="271.69" y="13.30" style="font-family:'Liberation Serif',serif;font-style:normal;font-size:6.2px" class="lgt">2</text>
<text x="274.85" y="19.50" style="font-family:'Liberation Serif',serif;font-style:normal;font-size:10.0px" class="lgt">,</text>
<text x="277.41" y="19.50" style="font-family:'Liberation Serif',serif;font-style:italic;font-size:10.0px" class="lgt">&#948;</text>
<text x="282.12" y="23.30" style="font-family:'Liberation Serif',serif;font-style:normal;font-size:6.2px" class="lgt">1</text>
<text x="285.28" y="19.50" style="font-family:'Liberation Serif',serif;font-style:normal;font-size:10.0px" class="lgt">=</text>
<text x="290.98" y="19.50" style="font-family:'Liberation Serif',serif;font-style:italic;font-size:10.0px" class="lgt">&#948;</text>
<text x="295.69" y="23.30" style="font-family:'Liberation Serif',serif;font-style:normal;font-size:6.2px" class="lgt">2</text>
<text x="298.85" y="19.50" style="font-family:'Liberation Serif',serif;font-style:normal;font-size:10.0px" class="lgt">=</text>
<text x="304.55" y="19.50" style="font-family:'Liberation Serif',serif;font-style:italic;font-size:10.0px" class="lgt">&#960;</text>
<text x="252.30" y="38.40" style="font-family:'Liberation Serif',serif;font-style:normal;font-size:10.0px" class="lgt">|</text>
<text x="254.36" y="38.40" style="font-family:'Liberation Serif',serif;font-style:normal;font-size:10.0px" class="lgt">&#936;</text>
<text x="261.80" y="42.20" style="font-family:'Liberation Serif',serif;font-style:normal;font-size:6.2px" class="lgt">2</text>
<text x="264.96" y="38.40" style="font-family:'Liberation Serif',serif;font-style:normal;font-size:10.0px" class="lgt">|</text>
<text x="267.02" y="32.20" style="font-family:'Liberation Serif',serif;font-style:normal;font-size:6.2px" class="lgt">2</text>
<text x="270.18" y="38.40" style="font-family:'Liberation Serif',serif;font-style:normal;font-size:10.0px" class="lgt">,</text>
<text x="272.74" y="38.40" style="font-family:'Liberation Serif',serif;font-style:italic;font-size:10.0px" class="lgt">&#948;</text>
<text x="277.45" y="42.20" style="font-family:'Liberation Serif',serif;font-style:normal;font-size:6.2px" class="lgt">1</text>
<text x="280.61" y="38.40" style="font-family:'Liberation Serif',serif;font-style:normal;font-size:10.0px" class="lgt">=0,</text>
<text x="293.93" y="38.40" style="font-family:'Liberation Serif',serif;font-style:italic;font-size:10.0px" class="lgt">&#948;</text>
<text x="298.64" y="42.20" style="font-family:'Liberation Serif',serif;font-style:normal;font-size:6.2px" class="lgt">2</text>
<text x="301.80" y="38.40" style="font-family:'Liberation Serif',serif;font-style:normal;font-size:10.0px" class="lgt">=</text>
<text x="307.50" y="38.40" style="font-family:'Liberation Serif',serif;font-style:italic;font-size:10.0px" class="lgt">&#960;</text>
<g transform="translate(16.2,137.5) rotate(-90)"><text x="-0.80" y="0.00" style="font-family:'Liberation Serif',serif;font-style:normal;font-size:17.25px">|</text>
<text x="3.65" y="0.00" style="font-family:'Liberation Serif',serif;font-style:normal;font-size:17.25px">&#936;</text>
<text x="15.59" y="6.70" style="font-family:'Liberation Serif',serif;font-style:normal;font-size:10.3px">1</text>
<text x="20.01" y="6.70" style="font-family:'Liberation Serif',serif;font-style:normal;font-size:10.3px">,</text>
<text x="22.05" y="6.70" style="font-family:'Liberation Serif',serif;font-style:normal;font-size:10.3px">2</text>
<text x="27.50" y="0.00" style="font-family:'Liberation Serif',serif;font-style:normal;font-size:17.25px">|</text>
<text x="31.05" y="-9.20" style="font-family:'Liberation Serif',serif;font-style:normal;font-size:10.3px">2</text>
<text x="36.64" y="0.00" style="font-family:'Liberation Serif',serif;font-style:normal;font-size:17.25px">(</text>
<text x="41.74" y="0.00" style="font-family:'Liberation Serif',serif;font-style:italic;font-size:17.25px">t</text>
<text x="50.64" y="0.00" style="font-family:'Liberation Serif',serif;font-style:normal;font-size:17.25px">=</text>
<text x="60.98" y="0.00" style="font-family:'Liberation Serif',serif;font-style:normal;font-size:17.25px">10)</text></g>
<text x="194.11" y="260.40" style="font-family:'Liberation Serif',serif;font-style:italic;font-size:17.5px">x</text>
</svg></body></html>
